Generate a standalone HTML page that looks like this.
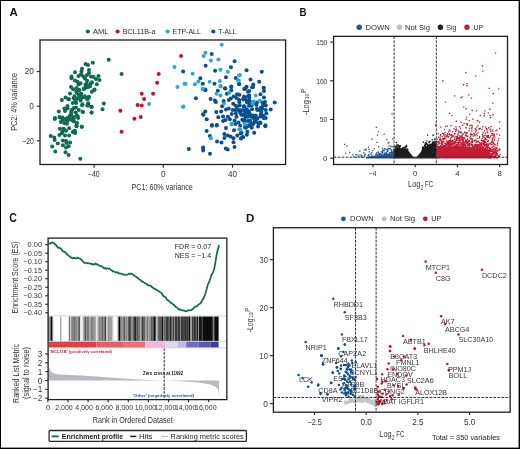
<!DOCTYPE html>
<html><head><meta charset="utf-8"><style>
html,body{margin:0;padding:0;background:#fff;}
body{width:520px;height:449px;overflow:hidden;}
svg{display:block;}
text{font-family:"Liberation Sans", sans-serif;}
</style></head><body>
<svg width="520" height="449" viewBox="0 0 520 449" style="will-change:transform">
<rect width="520" height="449" fill="#fff"/>
<text x="9.60" y="16.30" font-size="11.5" font-weight="bold" fill="#111">A</text>
<circle cx="87.90" cy="31.50" r="2.1" fill="#0d6b50"/>
<text x="93.10" y="34.10" font-size="7.5" textLength="15.4" lengthAdjust="spacingAndGlyphs" fill="#2b2b2b">AML</text>
<circle cx="117.60" cy="31.50" r="2.1" fill="#c8102e"/>
<text x="122.80" y="34.10" font-size="7.5" textLength="32.6" lengthAdjust="spacingAndGlyphs" fill="#2b2b2b">BCL11B-a</text>
<circle cx="167.60" cy="31.50" r="2.1" fill="#2aa6df"/>
<text x="172.60" y="34.10" font-size="7.5" textLength="28.2" lengthAdjust="spacingAndGlyphs" fill="#2b2b2b">ETP-ALL</text>
<circle cx="213.30" cy="31.50" r="2.1" fill="#0b4f8c"/>
<text x="218.50" y="34.10" font-size="7.5" textLength="18" lengthAdjust="spacingAndGlyphs" fill="#2b2b2b">T-ALL</text>
<line x1="36.80" y1="71.60" x2="40.00" y2="71.60" stroke="#222" stroke-width="1.1"/>
<text x="33.90" y="74.40" font-size="8.2" text-anchor="end" fill="#333">20</text>
<line x1="36.80" y1="106.20" x2="40.00" y2="106.20" stroke="#222" stroke-width="1.1"/>
<text x="33.90" y="109.00" font-size="8.2" text-anchor="end" fill="#333">0</text>
<line x1="36.80" y1="140.80" x2="40.00" y2="140.80" stroke="#222" stroke-width="1.1"/>
<text x="33.90" y="143.60" font-size="8.2" text-anchor="end" textLength="11.6" lengthAdjust="spacingAndGlyphs" fill="#333">−20</text>
<line x1="94.10" y1="164.50" x2="94.10" y2="167.70" stroke="#222" stroke-width="1.1"/>
<text x="93.80" y="176.70" font-size="8.2" text-anchor="middle" textLength="11.8" lengthAdjust="spacingAndGlyphs" fill="#333">−40</text>
<line x1="163.30" y1="164.50" x2="163.30" y2="167.70" stroke="#222" stroke-width="1.1"/>
<text x="163.30" y="176.70" font-size="8.2" text-anchor="middle" fill="#333">0</text>
<line x1="232.50" y1="164.50" x2="232.50" y2="167.70" stroke="#222" stroke-width="1.1"/>
<text x="232.50" y="176.70" font-size="8.2" text-anchor="middle" fill="#333">40</text>
<text x="131.50" y="189.50" font-size="9" textLength="61.3" lengthAdjust="spacingAndGlyphs" fill="#333">PC1: 60% variance</text>
<text transform="translate(17.2,130.8) rotate(-90)" font-size="9" textLength="57.9" lengthAdjust="spacingAndGlyphs" fill="#333">PC2: 4% variance</text>
<g fill="#0d6b50"><circle cx="85.3" cy="97.5" r="2.0"/><circle cx="63.2" cy="128.7" r="2.0"/><circle cx="67.6" cy="108.3" r="2.0"/><circle cx="81.2" cy="96.8" r="2.0"/><circle cx="80.9" cy="74.6" r="2.0"/><circle cx="88.7" cy="97.6" r="2.0"/><circle cx="90.7" cy="83.7" r="2.0"/><circle cx="74.4" cy="96.3" r="2.0"/><circle cx="72.0" cy="119.9" r="2.0"/><circle cx="73.8" cy="98.2" r="2.0"/><circle cx="76.3" cy="91.7" r="2.0"/><circle cx="75.9" cy="107.4" r="2.0"/><circle cx="64.4" cy="119.7" r="2.0"/><circle cx="70.3" cy="116.2" r="2.0"/><circle cx="86.6" cy="87.6" r="2.0"/><circle cx="66.0" cy="108.7" r="2.0"/><circle cx="76.2" cy="99.2" r="2.0"/><circle cx="90.0" cy="86.3" r="2.0"/><circle cx="68.6" cy="99.3" r="2.0"/><circle cx="61.9" cy="133.2" r="2.0"/><circle cx="69.8" cy="115.7" r="2.0"/><circle cx="81.4" cy="97.1" r="2.0"/><circle cx="71.2" cy="112.3" r="2.0"/><circle cx="72.8" cy="103.0" r="2.0"/><circle cx="71.7" cy="110.2" r="2.0"/><circle cx="86.9" cy="84.0" r="2.0"/><circle cx="79.4" cy="89.9" r="2.0"/><circle cx="84.8" cy="96.3" r="2.0"/><circle cx="78.7" cy="94.6" r="2.0"/><circle cx="85.7" cy="86.0" r="2.0"/><circle cx="108.7" cy="59.8" r="2.0"/><circle cx="92.8" cy="62.8" r="2.0"/><circle cx="85.5" cy="64.0" r="2.0"/><circle cx="88.0" cy="65.0" r="2.0"/><circle cx="82.0" cy="68.8" r="2.0"/><circle cx="89.0" cy="70.0" r="2.0"/><circle cx="75.0" cy="72.3" r="2.0"/><circle cx="81.5" cy="71.5" r="2.0"/><circle cx="81.0" cy="74.5" r="2.0"/><circle cx="78.5" cy="76.0" r="2.0"/><circle cx="83.5" cy="76.5" r="2.0"/><circle cx="85.0" cy="78.5" r="2.0"/><circle cx="87.0" cy="75.0" r="2.0"/><circle cx="89.0" cy="73.0" r="2.0"/><circle cx="91.0" cy="76.5" r="2.0"/><circle cx="93.5" cy="77.0" r="2.0"/><circle cx="98.5" cy="76.0" r="2.0"/><circle cx="96.0" cy="79.0" r="2.0"/><circle cx="99.5" cy="80.0" r="2.0"/><circle cx="71.5" cy="76.5" r="2.0"/><circle cx="71.5" cy="78.2" r="2.0"/><circle cx="75.0" cy="80.5" r="2.0"/><circle cx="77.5" cy="81.8" r="2.0"/><circle cx="80.5" cy="83.3" r="2.0"/><circle cx="78.5" cy="84.5" r="2.0"/><circle cx="87.0" cy="80.8" r="2.0"/><circle cx="92.0" cy="82.2" r="2.0"/><circle cx="96.8" cy="84.2" r="2.0"/><circle cx="85.5" cy="84.5" r="2.0"/><circle cx="88.0" cy="87.0" r="2.0"/><circle cx="71.0" cy="87.0" r="2.0"/><circle cx="76.5" cy="88.0" r="2.0"/><circle cx="84.0" cy="88.5" r="2.0"/><circle cx="94.5" cy="89.5" r="2.0"/><circle cx="94.4" cy="89.9" r="2.0"/><circle cx="91.9" cy="91.8" r="2.0"/><circle cx="83.8" cy="89.2" r="2.0"/><circle cx="78.8" cy="89.9" r="2.0"/><circle cx="73.1" cy="89.2" r="2.0"/><circle cx="76.9" cy="93.0" r="2.0"/><circle cx="81.2" cy="93.6" r="2.0"/><circle cx="70.0" cy="93.6" r="2.0"/><circle cx="65.6" cy="97.4" r="2.0"/><circle cx="68.8" cy="99.2" r="2.0"/><circle cx="61.9" cy="100.1" r="2.0"/><circle cx="74.4" cy="97.4" r="2.0"/><circle cx="78.1" cy="98.0" r="2.0"/><circle cx="82.5" cy="97.4" r="2.0"/><circle cx="88.8" cy="96.8" r="2.0"/><circle cx="87.5" cy="99.2" r="2.0"/><circle cx="75.6" cy="100.5" r="2.0"/><circle cx="80.6" cy="100.5" r="2.0"/><circle cx="76.2" cy="103.0" r="2.0"/><circle cx="82.5" cy="104.2" r="2.0"/><circle cx="88.1" cy="103.6" r="2.0"/><circle cx="88.1" cy="105.5" r="2.0"/><circle cx="91.6" cy="107.0" r="2.0"/><circle cx="103.8" cy="103.6" r="2.0"/><circle cx="102.5" cy="109.2" r="2.0"/><circle cx="91.6" cy="112.4" r="2.0"/><circle cx="82.5" cy="111.8" r="2.0"/><circle cx="78.8" cy="109.9" r="2.0"/><circle cx="73.8" cy="108.0" r="2.0"/><circle cx="67.5" cy="106.1" r="2.0"/><circle cx="64.4" cy="108.6" r="2.0"/><circle cx="65.0" cy="111.1" r="2.0"/><circle cx="58.8" cy="111.5" r="2.0"/><circle cx="71.9" cy="109.9" r="2.0"/><circle cx="75.6" cy="112.4" r="2.0"/><circle cx="71.2" cy="114.2" r="2.0"/><circle cx="76.9" cy="115.5" r="2.0"/><circle cx="78.1" cy="118.0" r="2.0"/><circle cx="73.8" cy="118.0" r="2.0"/><circle cx="67.5" cy="118.0" r="2.0"/><circle cx="62.5" cy="117.4" r="2.0"/><circle cx="60.0" cy="117.4" r="2.0"/><circle cx="55.0" cy="118.0" r="2.0"/><circle cx="69.4" cy="119.2" r="2.0"/><circle cx="54.7" cy="119.1" r="2.0"/><circle cx="59.4" cy="117.0" r="2.0"/><circle cx="62.4" cy="120.1" r="2.0"/><circle cx="60.9" cy="122.1" r="2.0"/><circle cx="65.5" cy="119.1" r="2.0"/><circle cx="67.5" cy="121.1" r="2.0"/><circle cx="64.5" cy="123.2" r="2.0"/><circle cx="67.0" cy="123.7" r="2.0"/><circle cx="73.7" cy="117.0" r="2.0"/><circle cx="77.8" cy="116.5" r="2.0"/><circle cx="73.7" cy="121.1" r="2.0"/><circle cx="76.8" cy="123.2" r="2.0"/><circle cx="76.5" cy="126.2" r="2.0"/><circle cx="81.9" cy="126.7" r="2.0"/><circle cx="59.9" cy="128.8" r="2.0"/><circle cx="64.0" cy="129.3" r="2.0"/><circle cx="69.1" cy="128.3" r="2.0"/><circle cx="62.4" cy="131.4" r="2.0"/><circle cx="66.0" cy="130.8" r="2.0"/><circle cx="74.7" cy="130.8" r="2.0"/><circle cx="75.2" cy="132.9" r="2.0"/><circle cx="72.7" cy="131.9" r="2.0"/><circle cx="59.4" cy="134.9" r="2.0"/><circle cx="65.0" cy="135.4" r="2.0"/><circle cx="69.1" cy="135.4" r="2.0"/><circle cx="50.7" cy="136.0" r="2.0"/><circle cx="54.2" cy="137.5" r="2.0"/><circle cx="54.7" cy="140.1" r="2.0"/><circle cx="62.9" cy="140.6" r="2.0"/><circle cx="66.0" cy="141.1" r="2.0"/><circle cx="70.1" cy="142.4" r="2.0"/><circle cx="57.8" cy="143.4" r="2.0"/><circle cx="62.9" cy="145.2" r="2.0"/><circle cx="66.5" cy="143.1" r="2.0"/><circle cx="52.2" cy="146.4" r="2.0"/><circle cx="68.6" cy="146.2" r="2.0"/><circle cx="66.0" cy="147.5" r="2.0"/><circle cx="55.3" cy="151.6" r="2.0"/><circle cx="65.5" cy="152.3" r="2.0"/><circle cx="68.6" cy="154.9" r="2.0"/><circle cx="80.3" cy="158.8" r="2.0"/><circle cx="91.5" cy="106.7" r="2.0"/><circle cx="91.5" cy="112.5" r="2.0"/><circle cx="83.0" cy="112.1" r="2.0"/><circle cx="88.2" cy="103.5" r="2.0"/><circle cx="87.3" cy="105.6" r="2.0"/><circle cx="82.1" cy="105.2" r="2.0"/><circle cx="81.7" cy="126.8" r="2.0"/><circle cx="76.5" cy="126.0" r="2.0"/><circle cx="76.9" cy="122.9" r="2.0"/><circle cx="74.8" cy="131.6" r="2.0"/><circle cx="73.5" cy="121.2" r="2.0"/><circle cx="121.6" cy="74.0" r="2.0"/></g>
<g fill="#c8102e"><circle cx="181.1" cy="56.0" r="2.0"/><circle cx="158.7" cy="74.0" r="2.0"/><circle cx="157.1" cy="82.7" r="2.0"/><circle cx="141.7" cy="93.7" r="2.0"/><circle cx="153.1" cy="93.7" r="2.0"/><circle cx="144.1" cy="99.1" r="2.0"/><circle cx="137.6" cy="105.1" r="2.0"/><circle cx="141.7" cy="105.5" r="2.0"/><circle cx="120.4" cy="110.7" r="2.0"/><circle cx="134.4" cy="118.7" r="2.0"/><circle cx="140.7" cy="117.1" r="2.0"/><circle cx="121.6" cy="131.8" r="2.0"/></g>
<g fill="#0b4f8c"><circle cx="247.1" cy="102.6" r="2.0"/><circle cx="260.8" cy="114.4" r="2.0"/><circle cx="235.4" cy="110.0" r="2.0"/><circle cx="248.0" cy="120.9" r="2.0"/><circle cx="249.5" cy="125.2" r="2.0"/><circle cx="235.8" cy="113.6" r="2.0"/><circle cx="255.4" cy="103.0" r="2.0"/><circle cx="260.7" cy="110.9" r="2.0"/><circle cx="248.8" cy="111.2" r="2.0"/><circle cx="265.0" cy="102.0" r="2.0"/><circle cx="239.7" cy="110.3" r="2.0"/><circle cx="250.3" cy="102.9" r="2.0"/><circle cx="241.3" cy="114.8" r="2.0"/><circle cx="265.7" cy="118.1" r="2.0"/><circle cx="258.5" cy="123.5" r="2.0"/><circle cx="243.2" cy="99.0" r="2.0"/><circle cx="240.1" cy="111.7" r="2.0"/><circle cx="236.9" cy="106.6" r="2.0"/><circle cx="265.8" cy="105.6" r="2.0"/><circle cx="254.6" cy="118.1" r="2.0"/><circle cx="245.6" cy="116.8" r="2.0"/><circle cx="253.4" cy="118.0" r="2.0"/><circle cx="244.0" cy="96.6" r="2.0"/><circle cx="239.8" cy="105.5" r="2.0"/><circle cx="256.9" cy="109.0" r="2.0"/><circle cx="246.6" cy="109.2" r="2.0"/><circle cx="263.1" cy="105.2" r="2.0"/><circle cx="244.5" cy="119.6" r="2.0"/><circle cx="256.7" cy="102.4" r="2.0"/><circle cx="249.8" cy="103.9" r="2.0"/><circle cx="260.4" cy="116.4" r="2.0"/><circle cx="243.2" cy="115.0" r="2.0"/><circle cx="247.0" cy="110.3" r="2.0"/><circle cx="251.7" cy="105.4" r="2.0"/><circle cx="255.7" cy="115.6" r="2.0"/><circle cx="255.7" cy="122.0" r="2.0"/><circle cx="248.0" cy="96.2" r="2.0"/><circle cx="245.6" cy="113.0" r="2.0"/><circle cx="251.2" cy="116.8" r="2.0"/><circle cx="259.9" cy="109.8" r="2.0"/><circle cx="249.8" cy="101.1" r="2.0"/><circle cx="262.4" cy="108.4" r="2.0"/><circle cx="239.1" cy="99.9" r="2.0"/><circle cx="246.4" cy="126.6" r="2.0"/><circle cx="249.6" cy="113.6" r="2.0"/><circle cx="183.1" cy="71.4" r="2.0"/><circle cx="211.7" cy="53.9" r="2.0"/><circle cx="205.6" cy="65.8" r="2.0"/><circle cx="234.6" cy="61.2" r="2.0"/><circle cx="231.0" cy="67.3" r="2.0"/><circle cx="215.1" cy="70.8" r="2.0"/><circle cx="200.4" cy="78.2" r="2.0"/><circle cx="202.8" cy="83.8" r="2.0"/><circle cx="214.5" cy="83.8" r="2.0"/><circle cx="226.0" cy="77.3" r="2.0"/><circle cx="235.7" cy="78.1" r="2.0"/><circle cx="225.1" cy="88.2" r="2.0"/><circle cx="231.2" cy="86.5" r="2.0"/><circle cx="239.0" cy="84.0" r="2.0"/><circle cx="205.4" cy="89.6" r="2.0"/><circle cx="246.6" cy="70.3" r="2.0"/><circle cx="261.8" cy="71.7" r="2.0"/><circle cx="250.5" cy="79.5" r="2.0"/><circle cx="259.2" cy="81.8" r="2.0"/><circle cx="253.3" cy="84.5" r="2.0"/><circle cx="239.3" cy="84.0" r="2.0"/><circle cx="263.8" cy="87.9" r="2.0"/><circle cx="246.6" cy="86.8" r="2.0"/><circle cx="244.9" cy="89.0" r="2.0"/><circle cx="252.1" cy="87.3" r="2.0"/><circle cx="205.3" cy="90.3" r="2.0"/><circle cx="217.8" cy="90.8" r="2.0"/><circle cx="225.2" cy="88.4" r="2.0"/><circle cx="231.3" cy="87.0" r="2.0"/><circle cx="231.3" cy="90.3" r="2.0"/><circle cx="226.9" cy="93.7" r="2.0"/><circle cx="210.6" cy="99.0" r="2.0"/><circle cx="214.9" cy="100.4" r="2.0"/><circle cx="215.9" cy="101.9" r="2.0"/><circle cx="223.6" cy="100.9" r="2.0"/><circle cx="228.8" cy="100.0" r="2.0"/><circle cx="230.8" cy="98.5" r="2.0"/><circle cx="233.7" cy="96.6" r="2.0"/><circle cx="237.0" cy="94.2" r="2.0"/><circle cx="239.4" cy="94.7" r="2.0"/><circle cx="236.5" cy="98.0" r="2.0"/><circle cx="244.2" cy="88.9" r="2.0"/><circle cx="248.0" cy="91.8" r="2.0"/><circle cx="243.3" cy="99.5" r="2.0"/><circle cx="247.1" cy="100.4" r="2.0"/><circle cx="239.4" cy="102.3" r="2.0"/><circle cx="233.2" cy="103.8" r="2.0"/><circle cx="235.6" cy="105.7" r="2.0"/><circle cx="243.8" cy="106.2" r="2.0"/><circle cx="249.0" cy="105.7" r="2.0"/><circle cx="222.1" cy="106.2" r="2.0"/><circle cx="226.0" cy="109.6" r="2.0"/><circle cx="228.8" cy="108.6" r="2.0"/><circle cx="232.7" cy="110.0" r="2.0"/><circle cx="238.0" cy="110.0" r="2.0"/><circle cx="242.3" cy="110.0" r="2.0"/><circle cx="245.7" cy="110.5" r="2.0"/><circle cx="205.3" cy="111.5" r="2.0"/><circle cx="203.4" cy="114.8" r="2.0"/><circle cx="206.7" cy="119.2" r="2.0"/><circle cx="216.3" cy="112.0" r="2.0"/><circle cx="221.2" cy="111.5" r="2.0"/><circle cx="218.3" cy="117.3" r="2.0"/><circle cx="223.1" cy="116.6" r="2.0"/><circle cx="227.9" cy="116.8" r="2.0"/><circle cx="231.7" cy="113.9" r="2.0"/><circle cx="236.5" cy="116.8" r="2.0"/><circle cx="240.4" cy="112.9" r="2.0"/><circle cx="244.2" cy="113.9" r="2.0"/><circle cx="248.0" cy="116.8" r="2.0"/><circle cx="223.1" cy="121.1" r="2.0"/><circle cx="225.5" cy="120.1" r="2.0"/><circle cx="229.8" cy="119.2" r="2.0"/><circle cx="234.6" cy="120.6" r="2.0"/><circle cx="238.5" cy="122.5" r="2.0"/><circle cx="242.3" cy="119.7" r="2.0"/><circle cx="212.0" cy="125.0" r="2.0"/><circle cx="216.8" cy="125.0" r="2.0"/><circle cx="252.9" cy="87.3" r="2.0"/><circle cx="263.6" cy="87.8" r="2.0"/><circle cx="264.0" cy="90.9" r="2.0"/><circle cx="260.5" cy="94.2" r="2.0"/><circle cx="264.0" cy="97.6" r="2.0"/><circle cx="274.7" cy="102.5" r="2.0"/><circle cx="270.7" cy="109.6" r="2.0"/><circle cx="262.3" cy="102.5" r="2.0"/><circle cx="264.0" cy="105.1" r="2.0"/><circle cx="256.5" cy="102.9" r="2.0"/><circle cx="256.5" cy="105.1" r="2.0"/><circle cx="249.3" cy="95.4" r="2.0"/><circle cx="249.3" cy="97.6" r="2.0"/><circle cx="246.7" cy="100.7" r="2.0"/><circle cx="244.9" cy="98.5" r="2.0"/><circle cx="245.8" cy="87.8" r="2.0"/><circle cx="249.3" cy="90.9" r="2.0"/><circle cx="249.8" cy="105.1" r="2.0"/><circle cx="244.4" cy="106.5" r="2.0"/><circle cx="252.0" cy="109.2" r="2.0"/><circle cx="257.4" cy="110.0" r="2.0"/><circle cx="260.9" cy="107.8" r="2.0"/><circle cx="261.4" cy="111.4" r="2.0"/><circle cx="265.8" cy="110.0" r="2.0"/><circle cx="266.3" cy="113.6" r="2.0"/><circle cx="263.1" cy="115.4" r="2.0"/><circle cx="263.6" cy="118.1" r="2.0"/><circle cx="257.4" cy="118.5" r="2.0"/><circle cx="252.9" cy="115.4" r="2.0"/><circle cx="248.0" cy="116.3" r="2.0"/><circle cx="246.7" cy="112.7" r="2.0"/><circle cx="244.9" cy="110.5" r="2.0"/><circle cx="250.2" cy="120.7" r="2.0"/><circle cx="254.7" cy="121.6" r="2.0"/><circle cx="260.0" cy="122.5" r="2.0"/><circle cx="252.9" cy="124.3" r="2.0"/><circle cx="265.4" cy="125.2" r="2.0"/><circle cx="249.3" cy="125.2" r="2.0"/><circle cx="211.9" cy="125.8" r="2.0"/><circle cx="216.7" cy="125.4" r="2.0"/><circle cx="206.6" cy="131.1" r="2.0"/><circle cx="209.9" cy="135.9" r="2.0"/><circle cx="217.0" cy="141.4" r="2.0"/><circle cx="221.5" cy="142.5" r="2.0"/><circle cx="203.2" cy="147.5" r="2.0"/><circle cx="203.2" cy="150.4" r="2.0"/><circle cx="210.0" cy="153.7" r="2.0"/><circle cx="226.0" cy="128.0" r="2.0"/><circle cx="234.0" cy="130.2" r="2.0"/><circle cx="224.4" cy="134.0" r="2.0"/><circle cx="224.4" cy="137.9" r="2.0"/><circle cx="227.7" cy="135.5" r="2.0"/><circle cx="230.6" cy="136.4" r="2.0"/><circle cx="233.5" cy="138.3" r="2.0"/><circle cx="233.5" cy="142.2" r="2.0"/><circle cx="234.5" cy="147.0" r="2.0"/><circle cx="225.8" cy="148.4" r="2.0"/><circle cx="227.7" cy="149.4" r="2.0"/><circle cx="237.3" cy="135.5" r="2.0"/><circle cx="240.7" cy="133.5" r="2.0"/><circle cx="241.2" cy="138.3" r="2.0"/><circle cx="243.1" cy="136.9" r="2.0"/><circle cx="235.4" cy="123.9" r="2.0"/><circle cx="240.2" cy="125.8" r="2.0"/><circle cx="245.0" cy="127.3" r="2.0"/><circle cx="244.4" cy="122.0" r="2.0"/><circle cx="251.8" cy="123.4" r="2.0"/><circle cx="255.7" cy="121.0" r="2.0"/><circle cx="260.6" cy="122.9" r="2.0"/><circle cx="258.1" cy="126.4" r="2.0"/><circle cx="251.8" cy="127.8" r="2.0"/><circle cx="248.3" cy="125.9" r="2.0"/><circle cx="245.9" cy="127.8" r="2.0"/><circle cx="265.3" cy="126.2" r="2.0"/><circle cx="254.2" cy="132.7" r="2.0"/><circle cx="247.4" cy="131.8" r="2.0"/><circle cx="246.9" cy="134.7" r="2.0"/><circle cx="241.5" cy="132.7" r="2.0"/><circle cx="242.9" cy="137.2" r="2.0"/><circle cx="241.0" cy="138.6" r="2.0"/><circle cx="195.9" cy="98.2" r="2.0"/><circle cx="188.8" cy="148.9" r="2.0"/><circle cx="203.1" cy="114.2" r="2.0"/><circle cx="203.1" cy="148.0" r="2.0"/></g>
<g fill="#2aa6df"><circle cx="174.5" cy="67.0" r="2.0"/><circle cx="177.5" cy="87.1" r="2.0"/><circle cx="184.5" cy="83.7" r="2.0"/><circle cx="149.1" cy="104.1" r="2.0"/><circle cx="183.1" cy="106.7" r="2.0"/><circle cx="221.7" cy="44.7" r="2.0"/><circle cx="205.4" cy="52.8" r="2.0"/><circle cx="203.7" cy="55.9" r="2.0"/><circle cx="210.9" cy="60.4" r="2.0"/><circle cx="218.4" cy="59.5" r="2.0"/><circle cx="192.6" cy="73.7" r="2.0"/><circle cx="220.4" cy="69.8" r="2.0"/><circle cx="227.9" cy="71.7" r="2.0"/><circle cx="198.4" cy="81.5" r="2.0"/><circle cx="195.0" cy="84.2" r="2.0"/><circle cx="209.7" cy="81.8" r="2.0"/><circle cx="219.9" cy="81.0" r="2.0"/><circle cx="220.4" cy="86.0" r="2.0"/><circle cx="202.8" cy="88.7" r="2.0"/><circle cx="185.6" cy="83.8" r="2.0"/><circle cx="239.0" cy="75.4" r="2.0"/><circle cx="238.2" cy="81.0" r="2.0"/><circle cx="239.9" cy="75.1" r="2.0"/><circle cx="238.8" cy="80.3" r="2.0"/><circle cx="202.7" cy="89.1" r="2.0"/><circle cx="216.5" cy="93.7" r="2.0"/><circle cx="220.4" cy="95.6" r="2.0"/><circle cx="229.3" cy="92.7" r="2.0"/><circle cx="224.0" cy="103.8" r="2.0"/><circle cx="231.7" cy="123.5" r="2.0"/><circle cx="245.2" cy="124.0" r="2.0"/><circle cx="220.7" cy="86.5" r="2.0"/><circle cx="255.6" cy="95.4" r="2.0"/><circle cx="253.8" cy="101.6" r="2.0"/><circle cx="252.5" cy="103.4" r="2.0"/><circle cx="259.9" cy="100.7" r="2.0"/><circle cx="245.3" cy="124.3" r="2.0"/><circle cx="210.9" cy="138.3" r="2.0"/><circle cx="231.6" cy="124.4" r="2.0"/><circle cx="239.3" cy="129.5" r="2.0"/><circle cx="244.9" cy="123.9" r="2.0"/><circle cx="240.5" cy="129.8" r="2.0"/><circle cx="183.4" cy="106.6" r="2.0"/></g>
<rect x="40.00" y="40.00" width="245.60" height="124.50" fill="none" stroke="#1e1e1e" stroke-width="1.3"/>
<text x="299.60" y="16.20" font-size="11.7" font-weight="bold" textLength="7.0" lengthAdjust="spacingAndGlyphs" fill="#111">B</text>
<circle cx="359.20" cy="27.20" r="2.7" fill="#1d5894"/>
<text x="365.40" y="29.80" font-size="7.5" textLength="24.3" lengthAdjust="spacingAndGlyphs" fill="#2b2b2b">DOWN</text>
<circle cx="399.50" cy="27.20" r="2.7" fill="#bdbdbd"/>
<text x="405.00" y="29.80" font-size="7.5" textLength="25" lengthAdjust="spacingAndGlyphs" fill="#2b2b2b">Not Sig</text>
<circle cx="440.40" cy="27.20" r="2.7" fill="#1f1f1f"/>
<text x="446.20" y="29.80" font-size="7.5" textLength="10.3" lengthAdjust="spacingAndGlyphs" fill="#2b2b2b">Sig</text>
<circle cx="467.00" cy="27.20" r="2.7" fill="#c41d33"/>
<text x="473.40" y="29.80" font-size="7.5" textLength="9.6" lengthAdjust="spacingAndGlyphs" fill="#2b2b2b">UP</text>
<line x1="330.20" y1="42.10" x2="333.60" y2="42.10" stroke="#222" stroke-width="1.1"/>
<text x="327.30" y="44.90" font-size="7.8" text-anchor="end" textLength="11.1" lengthAdjust="spacingAndGlyphs" fill="#333">150</text>
<line x1="330.20" y1="80.80" x2="333.60" y2="80.80" stroke="#222" stroke-width="1.1"/>
<text x="327.30" y="83.60" font-size="7.8" text-anchor="end" textLength="11.1" lengthAdjust="spacingAndGlyphs" fill="#333">100</text>
<line x1="330.20" y1="119.50" x2="333.60" y2="119.50" stroke="#222" stroke-width="1.1"/>
<text x="327.30" y="122.30" font-size="7.8" text-anchor="end" textLength="7.6" lengthAdjust="spacingAndGlyphs" fill="#333">50</text>
<line x1="330.20" y1="158.20" x2="333.60" y2="158.20" stroke="#222" stroke-width="1.1"/>
<text x="327.30" y="161.00" font-size="7.8" text-anchor="end" fill="#333">0</text>
<line x1="373.00" y1="164.50" x2="373.00" y2="167.30" stroke="#222" stroke-width="1.1"/>
<text x="372.65" y="176.40" font-size="7.8" text-anchor="middle" textLength="7.5" lengthAdjust="spacingAndGlyphs" fill="#333">−4</text>
<line x1="415.20" y1="164.50" x2="415.20" y2="167.30" stroke="#222" stroke-width="1.1"/>
<text x="415.20" y="176.40" font-size="7.8" text-anchor="middle" fill="#333">0</text>
<line x1="457.40" y1="164.50" x2="457.40" y2="167.30" stroke="#222" stroke-width="1.1"/>
<text x="457.40" y="176.40" font-size="7.8" text-anchor="middle" fill="#333">4</text>
<line x1="499.60" y1="164.50" x2="499.60" y2="167.30" stroke="#222" stroke-width="1.1"/>
<text x="499.60" y="176.40" font-size="7.8" text-anchor="middle" fill="#333">8</text>
<polygon fill="#1d5894" points="366.0,158.4 366.0,157.4 370.0,156.6 375.0,155.8 380.0,155.0 385.0,154.4 390.0,153.8 394.2,153.4 394.2,158.4"/>
<polygon fill="#1c1c1c" points="394.0,158.4 394.0,149.2 398.4,148.6 401.5,148.3 404.5,148.3 406.5,149.0 408.2,150.6 410.6,153.4 413.0,156.5 415.5,157.4 418.0,155.6 420.4,152.6 422.8,149.2 424.6,147.4 426.5,146.0 429.0,145.0 431.4,144.2 435.7,143.2 436.6,142.8 436.6,158.4"/>
<polygon fill="#c41d33" points="436.4,158.4 436.4,146.0 440.0,146.6 445.0,146.8 450.0,146.8 455.0,146.8 460.0,146.8 465.0,147.0 470.0,147.4 475.0,148.2 478.0,149.2 481.0,150.5 484.0,152.0 487.0,153.8 490.0,155.6 492.0,157.6 492.0,158.4"/>
<path fill="#1d5894" d="M378.8 153.2h1.3v1.3h-1.3zM393.2 148.9h1.3v1.3h-1.3zM384.4 152.9h1.3v1.3h-1.3zM380.7 154.0h1.3v1.3h-1.3zM389.6 148.5h1.3v1.3h-1.3zM370.2 153.1h1.3v1.3h-1.3zM385.2 153.0h1.3v1.3h-1.3zM383.3 154.3h1.3v1.3h-1.3zM375.5 153.2h1.3v1.3h-1.3zM387.3 150.4h1.3v1.3h-1.3zM363.9 155.0h1.3v1.3h-1.3zM391.1 150.1h1.3v1.3h-1.3zM381.8 151.1h1.3v1.3h-1.3zM376.7 154.0h1.3v1.3h-1.3zM383.8 148.0h1.3v1.3h-1.3zM360.6 155.8h1.3v1.3h-1.3zM385.6 152.9h1.3v1.3h-1.3zM367.9 146.4h1.3v1.3h-1.3zM356.3 153.9h1.3v1.3h-1.3zM375.2 154.6h1.3v1.3h-1.3zM387.2 153.5h1.3v1.3h-1.3zM376.2 151.9h1.3v1.3h-1.3zM391.0 152.2h1.3v1.3h-1.3zM391.0 151.0h1.3v1.3h-1.3zM367.6 154.8h1.3v1.3h-1.3zM386.7 150.6h1.3v1.3h-1.3zM390.1 145.7h1.3v1.3h-1.3zM389.2 147.7h1.3v1.3h-1.3zM386.5 148.9h1.3v1.3h-1.3zM393.3 150.2h1.3v1.3h-1.3zM372.9 155.8h1.3v1.3h-1.3zM391.4 152.5h1.3v1.3h-1.3zM368.7 151.2h1.3v1.3h-1.3zM383.5 152.6h1.3v1.3h-1.3zM381.6 147.8h1.3v1.3h-1.3zM378.0 152.5h1.3v1.3h-1.3zM392.9 152.4h1.3v1.3h-1.3zM365.2 149.3h1.3v1.3h-1.3zM377.3 151.2h1.3v1.3h-1.3zM376.3 141.7h1.3v1.3h-1.3zM383.3 150.3h1.3v1.3h-1.3zM353.2 156.3h1.3v1.3h-1.3zM392.9 150.6h1.3v1.3h-1.3zM380.6 154.4h1.3v1.3h-1.3zM391.6 145.9h1.3v1.3h-1.3zM391.8 152.7h1.3v1.3h-1.3zM359.1 150.5h1.3v1.3h-1.3zM391.2 152.6h1.3v1.3h-1.3zM355.7 156.7h1.3v1.3h-1.3zM376.9 154.5h1.3v1.3h-1.3zM363.9 155.5h1.3v1.3h-1.3zM370.9 154.2h1.3v1.3h-1.3zM383.5 149.6h1.3v1.3h-1.3zM355.7 156.8h1.3v1.3h-1.3zM388.6 152.4h1.3v1.3h-1.3zM368.6 155.8h1.3v1.3h-1.3zM390.0 151.9h1.3v1.3h-1.3zM371.5 155.8h1.3v1.3h-1.3zM384.3 153.7h1.3v1.3h-1.3zM385.0 148.5h1.3v1.3h-1.3zM368.3 156.3h1.3v1.3h-1.3zM360.9 154.5h1.3v1.3h-1.3zM390.7 149.4h1.3v1.3h-1.3zM368.1 154.1h1.3v1.3h-1.3zM379.4 153.1h1.3v1.3h-1.3zM389.6 148.4h1.3v1.3h-1.3zM381.8 152.5h1.3v1.3h-1.3zM362.4 156.8h1.3v1.3h-1.3zM385.1 153.4h1.3v1.3h-1.3zM384.2 154.3h1.3v1.3h-1.3zM393.2 146.2h1.3v1.3h-1.3zM392.4 151.5h1.3v1.3h-1.3zM385.5 152.9h1.3v1.3h-1.3zM387.4 148.3h1.3v1.3h-1.3zM388.0 147.7h1.3v1.3h-1.3zM386.1 153.8h1.3v1.3h-1.3zM378.1 153.4h1.3v1.3h-1.3zM389.7 151.9h1.3v1.3h-1.3zM371.1 151.8h1.3v1.3h-1.3zM381.3 154.2h1.3v1.3h-1.3zM372.1 155.5h1.3v1.3h-1.3zM382.1 149.6h1.3v1.3h-1.3zM363.5 149.2h1.3v1.3h-1.3zM391.6 152.1h1.3v1.3h-1.3zM365.7 148.5h1.3v1.3h-1.3zM364.6 153.5h1.3v1.3h-1.3zM378.7 154.2h1.3v1.3h-1.3zM388.4 145.3h1.3v1.3h-1.3zM361.3 156.6h1.3v1.3h-1.3zM385.7 151.8h1.3v1.3h-1.3zM391.4 153.4h1.3v1.3h-1.3zM391.1 152.8h1.3v1.3h-1.3zM378.0 146.3h1.3v1.3h-1.3zM385.0 152.5h1.3v1.3h-1.3zM389.0 152.7h1.3v1.3h-1.3zM391.3 153.1h1.3v1.3h-1.3zM357.8 155.6h1.3v1.3h-1.3zM389.9 152.1h1.3v1.3h-1.3zM385.3 153.8h1.3v1.3h-1.3zM364.5 154.0h1.3v1.3h-1.3zM380.6 153.5h1.3v1.3h-1.3zM390.2 152.0h1.3v1.3h-1.3zM380.3 151.2h1.3v1.3h-1.3zM387.2 149.2h1.3v1.3h-1.3zM389.5 152.0h1.3v1.3h-1.3zM391.1 152.3h1.3v1.3h-1.3zM391.4 113.3h1.3v1.3h-1.3zM375.7 126.8h1.3v1.3h-1.3zM377.6 130.9h1.3v1.3h-1.3zM376.9 134.5h1.3v1.3h-1.3zM383.5 133.5h1.3v1.3h-1.3zM371.4 138.4h1.3v1.3h-1.3zM386.2 138.8h1.3v1.3h-1.3zM388.2 141.7h1.3v1.3h-1.3zM387.4 142.5h1.3v1.3h-1.3zM392.1 138.2h1.3v1.3h-1.3zM344.0 143.7h1.3v1.3h-1.3zM346.2 145.2h1.3v1.3h-1.3zM345.0 152.7h1.3v1.3h-1.3zM349.1 151.8h1.3v1.3h-1.3zM352.2 154.2h1.3v1.3h-1.3zM355.4 154.2h1.3v1.3h-1.3zM359.2 150.3h1.3v1.3h-1.3zM359.2 154.2h1.3v1.3h-1.3zM363.1 152.2h1.3v1.3h-1.3zM368.2 148.7h1.3v1.3h-1.3zM372.2 150.0h1.3v1.3h-1.3zM373.7 147.9h1.3v1.3h-1.3zM392.9 96.3h1.3v1.3h-1.3z"/>
<path fill="#1c1c1c" d="M406.3 149.1h1.3v1.3h-1.3zM398.1 145.0h1.3v1.3h-1.3zM406.9 148.7h1.3v1.3h-1.3zM399.8 146.0h1.3v1.3h-1.3zM400.4 148.2h1.3v1.3h-1.3zM394.9 149.1h1.3v1.3h-1.3zM395.1 146.9h1.3v1.3h-1.3zM405.1 148.3h1.3v1.3h-1.3zM396.6 148.0h1.3v1.3h-1.3zM394.5 145.7h1.3v1.3h-1.3zM395.8 141.9h1.3v1.3h-1.3zM406.6 149.2h1.3v1.3h-1.3zM403.4 147.3h1.3v1.3h-1.3zM397.6 146.3h1.3v1.3h-1.3zM399.4 148.2h1.3v1.3h-1.3zM398.9 148.0h1.3v1.3h-1.3zM404.6 145.9h1.3v1.3h-1.3zM406.7 149.4h1.3v1.3h-1.3zM396.1 147.5h1.3v1.3h-1.3zM395.3 146.8h1.3v1.3h-1.3zM397.6 148.1h1.3v1.3h-1.3zM405.9 144.8h1.3v1.3h-1.3zM397.4 146.0h1.3v1.3h-1.3zM398.7 147.7h1.3v1.3h-1.3zM403.0 147.4h1.3v1.3h-1.3zM406.0 145.9h1.3v1.3h-1.3zM396.4 147.0h1.3v1.3h-1.3zM397.2 144.1h1.3v1.3h-1.3zM403.1 147.2h1.3v1.3h-1.3zM406.4 148.6h1.3v1.3h-1.3zM402.1 147.4h1.3v1.3h-1.3zM398.7 146.2h1.3v1.3h-1.3zM405.2 146.4h1.3v1.3h-1.3zM404.4 146.6h1.3v1.3h-1.3zM396.4 148.4h1.3v1.3h-1.3zM399.6 145.0h1.3v1.3h-1.3zM395.1 146.3h1.3v1.3h-1.3zM401.2 148.1h1.3v1.3h-1.3zM400.8 148.4h1.3v1.3h-1.3zM401.9 147.6h1.3v1.3h-1.3zM406.6 148.7h1.3v1.3h-1.3zM398.4 145.1h1.3v1.3h-1.3zM404.6 145.8h1.3v1.3h-1.3zM395.8 144.5h1.3v1.3h-1.3zM395.0 148.6h1.3v1.3h-1.3zM406.4 148.4h1.3v1.3h-1.3zM394.1 149.2h1.3v1.3h-1.3zM402.3 146.9h1.3v1.3h-1.3zM407.2 148.8h1.3v1.3h-1.3zM399.4 148.5h1.3v1.3h-1.3zM396.3 145.1h1.3v1.3h-1.3zM394.6 147.0h1.3v1.3h-1.3zM396.4 147.3h1.3v1.3h-1.3zM398.4 146.8h1.3v1.3h-1.3zM402.3 147.8h1.3v1.3h-1.3zM428.2 144.5h1.3v1.3h-1.3zM421.5 150.1h1.3v1.3h-1.3zM424.9 145.6h1.3v1.3h-1.3zM432.9 134.4h1.3v1.3h-1.3zM432.3 142.7h1.3v1.3h-1.3zM428.2 141.6h1.3v1.3h-1.3zM423.9 145.1h1.3v1.3h-1.3zM421.4 150.2h1.3v1.3h-1.3zM424.3 143.4h1.3v1.3h-1.3zM429.0 141.1h1.3v1.3h-1.3zM427.1 144.3h1.3v1.3h-1.3zM422.7 147.6h1.3v1.3h-1.3zM430.1 144.1h1.3v1.3h-1.3zM431.4 143.0h1.3v1.3h-1.3zM429.2 144.2h1.3v1.3h-1.3zM431.6 144.1h1.3v1.3h-1.3zM424.9 143.0h1.3v1.3h-1.3zM429.8 144.5h1.3v1.3h-1.3zM433.7 142.2h1.3v1.3h-1.3zM422.8 141.6h1.3v1.3h-1.3zM433.0 141.7h1.3v1.3h-1.3zM421.7 147.5h1.3v1.3h-1.3zM422.0 146.4h1.3v1.3h-1.3zM428.8 144.7h1.3v1.3h-1.3zM429.2 144.5h1.3v1.3h-1.3zM426.9 143.6h1.3v1.3h-1.3zM432.2 134.4h1.3v1.3h-1.3zM426.5 145.8h1.3v1.3h-1.3zM425.5 142.1h1.3v1.3h-1.3zM425.0 146.6h1.3v1.3h-1.3zM422.1 148.8h1.3v1.3h-1.3zM429.3 143.4h1.3v1.3h-1.3zM431.4 144.0h1.3v1.3h-1.3zM429.4 140.8h1.3v1.3h-1.3zM427.3 144.7h1.3v1.3h-1.3zM431.8 139.3h1.3v1.3h-1.3zM426.3 140.2h1.3v1.3h-1.3zM435.3 142.3h1.3v1.3h-1.3zM427.0 134.4h1.3v1.3h-1.3zM423.4 146.9h1.3v1.3h-1.3zM434.1 142.3h1.3v1.3h-1.3zM431.8 141.6h1.3v1.3h-1.3zM429.5 144.5h1.3v1.3h-1.3zM423.3 146.2h1.3v1.3h-1.3zM433.4 142.9h1.3v1.3h-1.3zM426.0 143.3h1.3v1.3h-1.3zM425.1 142.6h1.3v1.3h-1.3zM432.1 143.8h1.3v1.3h-1.3zM434.4 139.1h1.3v1.3h-1.3zM434.1 138.6h1.3v1.3h-1.3zM425.7 143.6h1.3v1.3h-1.3zM435.2 141.1h1.3v1.3h-1.3zM433.5 141.1h1.3v1.3h-1.3zM424.6 144.1h1.3v1.3h-1.3zM435.1 124.6h1.3v1.3h-1.3z"/>
<path fill="#c41d33" d="M475.8 141.2h1.3v1.3h-1.3zM438.9 139.4h1.3v1.3h-1.3zM481.0 142.6h1.3v1.3h-1.3zM494.0 150.2h1.3v1.3h-1.3zM482.7 140.3h1.3v1.3h-1.3zM447.5 145.5h1.3v1.3h-1.3zM489.8 156.3h1.3v1.3h-1.3zM488.6 157.3h1.3v1.3h-1.3zM464.8 140.3h1.3v1.3h-1.3zM491.8 138.1h1.3v1.3h-1.3zM450.9 134.0h1.3v1.3h-1.3zM452.1 142.6h1.3v1.3h-1.3zM461.1 138.5h1.3v1.3h-1.3zM488.0 154.5h1.3v1.3h-1.3zM465.8 141.3h1.3v1.3h-1.3zM484.1 144.8h1.3v1.3h-1.3zM489.7 155.9h1.3v1.3h-1.3zM459.6 131.8h1.3v1.3h-1.3zM461.1 145.7h1.3v1.3h-1.3zM475.5 146.0h1.3v1.3h-1.3zM449.9 140.9h1.3v1.3h-1.3zM442.1 141.8h1.3v1.3h-1.3zM463.0 145.2h1.3v1.3h-1.3zM436.9 144.3h1.3v1.3h-1.3zM486.6 149.3h1.3v1.3h-1.3zM460.1 137.1h1.3v1.3h-1.3zM437.7 143.2h1.3v1.3h-1.3zM480.3 145.6h1.3v1.3h-1.3zM448.2 144.0h1.3v1.3h-1.3zM471.8 125.2h1.3v1.3h-1.3zM446.6 140.7h1.3v1.3h-1.3zM484.4 139.1h1.3v1.3h-1.3zM483.0 147.7h1.3v1.3h-1.3zM463.1 106.5h1.3v1.3h-1.3zM482.1 135.5h1.3v1.3h-1.3zM447.8 136.5h1.3v1.3h-1.3zM474.4 135.0h1.3v1.3h-1.3zM480.8 143.6h1.3v1.3h-1.3zM482.2 145.8h1.3v1.3h-1.3zM484.7 150.8h1.3v1.3h-1.3zM475.1 146.5h1.3v1.3h-1.3zM482.9 147.1h1.3v1.3h-1.3zM456.7 139.3h1.3v1.3h-1.3zM455.3 139.6h1.3v1.3h-1.3zM472.0 144.0h1.3v1.3h-1.3zM481.1 150.4h1.3v1.3h-1.3zM461.2 146.4h1.3v1.3h-1.3zM494.1 157.3h1.3v1.3h-1.3zM476.3 141.2h1.3v1.3h-1.3zM449.7 138.1h1.3v1.3h-1.3zM491.3 150.1h1.3v1.3h-1.3zM456.2 144.0h1.3v1.3h-1.3zM476.6 134.9h1.3v1.3h-1.3zM491.5 156.7h1.3v1.3h-1.3zM446.0 142.4h1.3v1.3h-1.3zM459.4 137.1h1.3v1.3h-1.3zM483.9 144.7h1.3v1.3h-1.3zM436.5 138.8h1.3v1.3h-1.3zM464.6 143.8h1.3v1.3h-1.3zM451.0 144.8h1.3v1.3h-1.3zM493.4 157.3h1.3v1.3h-1.3zM491.2 140.5h1.3v1.3h-1.3zM454.6 146.3h1.3v1.3h-1.3zM447.7 146.3h1.3v1.3h-1.3zM461.3 142.1h1.3v1.3h-1.3zM461.2 134.9h1.3v1.3h-1.3zM445.6 136.3h1.3v1.3h-1.3zM496.3 133.4h1.3v1.3h-1.3zM493.8 153.3h1.3v1.3h-1.3zM487.1 151.6h1.3v1.3h-1.3zM482.8 141.3h1.3v1.3h-1.3zM468.1 144.3h1.3v1.3h-1.3zM485.1 141.6h1.3v1.3h-1.3zM449.6 139.8h1.3v1.3h-1.3zM451.9 143.6h1.3v1.3h-1.3zM452.0 146.7h1.3v1.3h-1.3zM466.7 123.1h1.3v1.3h-1.3zM450.5 143.6h1.3v1.3h-1.3zM469.1 137.3h1.3v1.3h-1.3zM486.1 128.0h1.3v1.3h-1.3zM465.2 127.0h1.3v1.3h-1.3zM485.6 150.9h1.3v1.3h-1.3zM466.9 144.1h1.3v1.3h-1.3zM488.1 127.1h1.3v1.3h-1.3zM479.6 114.9h1.3v1.3h-1.3zM489.0 137.3h1.3v1.3h-1.3zM477.4 148.4h1.3v1.3h-1.3zM447.8 140.9h1.3v1.3h-1.3zM494.0 156.1h1.3v1.3h-1.3zM487.5 149.4h1.3v1.3h-1.3zM440.1 126.5h1.3v1.3h-1.3zM450.5 146.4h1.3v1.3h-1.3zM490.6 156.5h1.3v1.3h-1.3zM486.3 152.2h1.3v1.3h-1.3zM449.6 141.3h1.3v1.3h-1.3zM486.2 146.9h1.3v1.3h-1.3zM465.3 144.9h1.3v1.3h-1.3zM487.8 153.5h1.3v1.3h-1.3zM471.3 143.4h1.3v1.3h-1.3zM489.0 153.3h1.3v1.3h-1.3zM494.3 146.4h1.3v1.3h-1.3zM492.8 145.8h1.3v1.3h-1.3zM482.8 147.5h1.3v1.3h-1.3zM471.7 140.5h1.3v1.3h-1.3zM483.5 115.1h1.3v1.3h-1.3zM498.0 156.3h1.3v1.3h-1.3zM490.6 156.0h1.3v1.3h-1.3zM490.3 126.0h1.3v1.3h-1.3zM489.0 151.9h1.3v1.3h-1.3zM480.5 148.2h1.3v1.3h-1.3zM476.6 146.1h1.3v1.3h-1.3zM493.7 148.7h1.3v1.3h-1.3zM481.6 140.1h1.3v1.3h-1.3zM469.8 143.9h1.3v1.3h-1.3zM438.0 136.5h1.3v1.3h-1.3zM446.8 125.5h1.3v1.3h-1.3zM478.6 145.4h1.3v1.3h-1.3zM491.0 156.3h1.3v1.3h-1.3zM450.5 144.1h1.3v1.3h-1.3zM445.0 143.5h1.3v1.3h-1.3zM495.7 156.8h1.3v1.3h-1.3zM450.4 139.8h1.3v1.3h-1.3zM489.8 149.4h1.3v1.3h-1.3zM494.4 147.9h1.3v1.3h-1.3zM462.5 133.0h1.3v1.3h-1.3zM463.4 142.0h1.3v1.3h-1.3zM484.7 143.4h1.3v1.3h-1.3zM461.9 139.3h1.3v1.3h-1.3zM458.4 146.3h1.3v1.3h-1.3zM493.8 143.9h1.3v1.3h-1.3zM459.1 140.7h1.3v1.3h-1.3zM490.7 153.2h1.3v1.3h-1.3zM454.7 145.5h1.3v1.3h-1.3zM449.4 143.8h1.3v1.3h-1.3zM449.7 134.5h1.3v1.3h-1.3zM471.7 139.8h1.3v1.3h-1.3zM452.4 139.5h1.3v1.3h-1.3zM496.4 147.2h1.3v1.3h-1.3zM445.8 144.0h1.3v1.3h-1.3zM484.0 141.9h1.3v1.3h-1.3zM479.9 146.9h1.3v1.3h-1.3zM481.9 147.8h1.3v1.3h-1.3zM474.6 131.2h1.3v1.3h-1.3zM494.8 152.0h1.3v1.3h-1.3zM454.4 146.3h1.3v1.3h-1.3zM487.7 154.2h1.3v1.3h-1.3zM453.3 140.9h1.3v1.3h-1.3zM438.3 140.9h1.3v1.3h-1.3zM494.9 157.0h1.3v1.3h-1.3zM495.1 154.5h1.3v1.3h-1.3zM472.2 147.5h1.3v1.3h-1.3zM475.6 148.4h1.3v1.3h-1.3zM470.3 142.1h1.3v1.3h-1.3zM484.6 149.2h1.3v1.3h-1.3zM489.5 128.5h1.3v1.3h-1.3zM499.0 127.8h1.3v1.3h-1.3zM441.6 141.6h1.3v1.3h-1.3zM480.1 144.0h1.3v1.3h-1.3zM499.4 153.9h1.3v1.3h-1.3zM463.0 145.7h1.3v1.3h-1.3zM495.7 147.1h1.3v1.3h-1.3zM488.8 151.5h1.3v1.3h-1.3zM483.6 150.4h1.3v1.3h-1.3zM455.5 120.8h1.3v1.3h-1.3zM447.6 141.7h1.3v1.3h-1.3zM489.4 156.5h1.3v1.3h-1.3zM496.4 156.9h1.3v1.3h-1.3zM491.4 149.2h1.3v1.3h-1.3zM463.5 138.2h1.3v1.3h-1.3zM487.6 112.3h1.3v1.3h-1.3zM496.3 156.7h1.3v1.3h-1.3zM440.4 140.2h1.3v1.3h-1.3zM449.5 142.0h1.3v1.3h-1.3zM456.5 135.8h1.3v1.3h-1.3zM497.2 156.7h1.3v1.3h-1.3zM452.1 131.0h1.3v1.3h-1.3zM440.3 145.1h1.3v1.3h-1.3zM456.0 139.1h1.3v1.3h-1.3zM448.7 140.9h1.3v1.3h-1.3zM477.5 140.3h1.3v1.3h-1.3zM462.7 140.7h1.3v1.3h-1.3zM475.3 144.2h1.3v1.3h-1.3zM438.9 145.7h1.3v1.3h-1.3zM483.0 139.8h1.3v1.3h-1.3zM455.8 146.7h1.3v1.3h-1.3zM485.9 144.2h1.3v1.3h-1.3zM470.6 141.0h1.3v1.3h-1.3zM491.5 155.2h1.3v1.3h-1.3zM485.8 139.0h1.3v1.3h-1.3zM475.8 146.9h1.3v1.3h-1.3zM488.6 149.3h1.3v1.3h-1.3zM468.2 143.6h1.3v1.3h-1.3zM459.1 135.0h1.3v1.3h-1.3zM436.5 141.6h1.3v1.3h-1.3zM481.9 151.0h1.3v1.3h-1.3zM489.4 114.7h1.3v1.3h-1.3zM460.0 146.3h1.3v1.3h-1.3zM455.5 145.2h1.3v1.3h-1.3zM459.1 138.6h1.3v1.3h-1.3zM469.0 146.6h1.3v1.3h-1.3zM480.8 145.3h1.3v1.3h-1.3zM461.9 145.9h1.3v1.3h-1.3zM485.7 147.1h1.3v1.3h-1.3zM490.5 134.8h1.3v1.3h-1.3zM462.0 144.1h1.3v1.3h-1.3zM440.1 139.3h1.3v1.3h-1.3zM445.4 145.7h1.3v1.3h-1.3zM475.1 144.1h1.3v1.3h-1.3zM464.2 141.8h1.3v1.3h-1.3zM482.2 136.2h1.3v1.3h-1.3zM451.8 139.9h1.3v1.3h-1.3zM487.7 151.6h1.3v1.3h-1.3zM484.8 137.7h1.3v1.3h-1.3zM493.6 138.4h1.3v1.3h-1.3zM482.2 126.1h1.3v1.3h-1.3zM480.4 149.8h1.3v1.3h-1.3zM481.5 150.7h1.3v1.3h-1.3zM460.3 121.7h1.3v1.3h-1.3zM447.6 144.9h1.3v1.3h-1.3zM465.8 116.8h1.3v1.3h-1.3zM494.3 149.8h1.3v1.3h-1.3zM462.6 144.2h1.3v1.3h-1.3zM466.9 143.8h1.3v1.3h-1.3zM460.3 142.3h1.3v1.3h-1.3zM481.1 150.0h1.3v1.3h-1.3zM466.0 132.7h1.3v1.3h-1.3zM485.2 144.0h1.3v1.3h-1.3zM481.4 128.7h1.3v1.3h-1.3zM484.7 138.4h1.3v1.3h-1.3zM464.1 144.9h1.3v1.3h-1.3zM471.1 130.4h1.3v1.3h-1.3zM481.6 134.0h1.3v1.3h-1.3zM487.2 146.0h1.3v1.3h-1.3zM488.1 151.9h1.3v1.3h-1.3zM446.8 133.1h1.3v1.3h-1.3zM485.0 146.7h1.3v1.3h-1.3zM447.4 133.8h1.3v1.3h-1.3zM450.1 146.4h1.3v1.3h-1.3zM492.9 142.6h1.3v1.3h-1.3zM486.0 143.8h1.3v1.3h-1.3zM456.4 145.4h1.3v1.3h-1.3zM454.7 141.4h1.3v1.3h-1.3zM495.0 151.0h1.3v1.3h-1.3zM487.4 146.8h1.3v1.3h-1.3zM489.8 157.3h1.3v1.3h-1.3zM477.5 125.3h1.3v1.3h-1.3zM487.1 136.6h1.3v1.3h-1.3zM453.4 145.6h1.3v1.3h-1.3zM490.0 147.7h1.3v1.3h-1.3zM439.3 142.6h1.3v1.3h-1.3zM493.6 134.8h1.3v1.3h-1.3zM468.4 129.9h1.3v1.3h-1.3zM465.6 142.1h1.3v1.3h-1.3zM471.9 146.9h1.3v1.3h-1.3zM483.8 148.4h1.3v1.3h-1.3zM471.8 138.6h1.3v1.3h-1.3zM488.1 136.6h1.3v1.3h-1.3zM465.8 127.3h1.3v1.3h-1.3zM495.1 130.3h1.3v1.3h-1.3zM461.8 146.1h1.3v1.3h-1.3zM443.5 145.9h1.3v1.3h-1.3zM486.0 145.4h1.3v1.3h-1.3zM490.9 154.8h1.3v1.3h-1.3zM489.9 150.1h1.3v1.3h-1.3zM492.3 141.5h1.3v1.3h-1.3zM483.3 150.2h1.3v1.3h-1.3zM487.6 153.4h1.3v1.3h-1.3zM487.9 152.1h1.3v1.3h-1.3zM444.4 146.5h1.3v1.3h-1.3zM470.4 124.6h1.3v1.3h-1.3zM450.0 142.3h1.3v1.3h-1.3zM483.9 151.5h1.3v1.3h-1.3zM447.7 146.5h1.3v1.3h-1.3zM487.6 152.9h1.3v1.3h-1.3zM491.4 156.1h1.3v1.3h-1.3zM455.4 146.7h1.3v1.3h-1.3zM487.6 143.9h1.3v1.3h-1.3zM445.6 135.2h1.3v1.3h-1.3zM448.0 131.3h1.3v1.3h-1.3zM493.7 152.3h1.3v1.3h-1.3zM471.5 146.7h1.3v1.3h-1.3zM483.5 137.0h1.3v1.3h-1.3zM484.1 149.7h1.3v1.3h-1.3zM462.0 143.6h1.3v1.3h-1.3zM477.8 144.2h1.3v1.3h-1.3zM467.6 144.0h1.3v1.3h-1.3zM441.9 142.6h1.3v1.3h-1.3zM492.3 149.5h1.3v1.3h-1.3zM493.3 157.3h1.3v1.3h-1.3zM454.7 142.5h1.3v1.3h-1.3zM476.9 148.1h1.3v1.3h-1.3zM472.1 145.9h1.3v1.3h-1.3zM474.9 148.1h1.3v1.3h-1.3zM476.9 144.7h1.3v1.3h-1.3zM440.2 145.1h1.3v1.3h-1.3zM462.5 139.9h1.3v1.3h-1.3zM450.3 142.8h1.3v1.3h-1.3zM462.7 139.1h1.3v1.3h-1.3zM458.3 139.5h1.3v1.3h-1.3zM491.4 153.1h1.3v1.3h-1.3zM484.4 110.3h1.3v1.3h-1.3zM473.0 135.5h1.3v1.3h-1.3zM489.5 148.1h1.3v1.3h-1.3zM481.1 150.1h1.3v1.3h-1.3zM478.2 147.5h1.3v1.3h-1.3zM442.2 145.5h1.3v1.3h-1.3zM463.0 146.7h1.3v1.3h-1.3zM458.5 131.3h1.3v1.3h-1.3zM478.9 135.9h1.3v1.3h-1.3zM466.9 138.6h1.3v1.3h-1.3zM444.4 145.5h1.3v1.3h-1.3zM469.1 113.4h1.3v1.3h-1.3zM474.8 139.7h1.3v1.3h-1.3zM448.7 143.2h1.3v1.3h-1.3zM488.0 154.5h1.3v1.3h-1.3zM457.5 130.0h1.3v1.3h-1.3zM441.6 136.0h1.3v1.3h-1.3zM483.6 144.8h1.3v1.3h-1.3zM488.6 148.5h1.3v1.3h-1.3zM487.9 156.5h1.3v1.3h-1.3zM460.2 131.3h1.3v1.3h-1.3zM455.1 130.8h1.3v1.3h-1.3zM480.7 142.3h1.3v1.3h-1.3zM446.4 146.4h1.3v1.3h-1.3zM444.9 101.5h1.3v1.3h-1.3zM458.5 138.5h1.3v1.3h-1.3zM480.3 143.4h1.3v1.3h-1.3zM481.0 149.5h1.3v1.3h-1.3zM463.3 143.8h1.3v1.3h-1.3zM493.1 156.9h1.3v1.3h-1.3zM452.2 135.1h1.3v1.3h-1.3zM486.4 150.8h1.3v1.3h-1.3zM453.7 143.4h1.3v1.3h-1.3zM471.6 133.9h1.3v1.3h-1.3zM463.4 137.0h1.3v1.3h-1.3zM483.9 130.3h1.3v1.3h-1.3zM461.1 142.8h1.3v1.3h-1.3zM461.8 144.3h1.3v1.3h-1.3zM467.1 142.6h1.3v1.3h-1.3zM487.7 134.7h1.3v1.3h-1.3zM443.8 128.8h1.3v1.3h-1.3zM452.9 145.7h1.3v1.3h-1.3zM494.5 148.7h1.3v1.3h-1.3zM480.9 150.4h1.3v1.3h-1.3zM462.6 133.3h1.3v1.3h-1.3zM479.9 149.4h1.3v1.3h-1.3zM460.6 136.4h1.3v1.3h-1.3zM485.0 147.9h1.3v1.3h-1.3zM443.0 134.5h1.3v1.3h-1.3zM486.4 129.1h1.3v1.3h-1.3zM441.2 143.8h1.3v1.3h-1.3zM490.1 130.7h1.3v1.3h-1.3zM453.9 137.3h1.3v1.3h-1.3zM444.6 145.4h1.3v1.3h-1.3zM448.1 143.5h1.3v1.3h-1.3zM488.7 149.5h1.3v1.3h-1.3zM454.5 141.7h1.3v1.3h-1.3zM455.7 129.2h1.3v1.3h-1.3zM454.5 132.9h1.3v1.3h-1.3zM450.8 136.9h1.3v1.3h-1.3zM440.0 134.0h1.3v1.3h-1.3zM456.2 139.9h1.3v1.3h-1.3zM448.9 112.8h1.3v1.3h-1.3zM456.5 141.9h1.3v1.3h-1.3zM464.0 137.2h1.3v1.3h-1.3zM474.1 133.9h1.3v1.3h-1.3zM488.2 150.2h1.3v1.3h-1.3zM462.3 143.8h1.3v1.3h-1.3zM456.0 145.6h1.3v1.3h-1.3zM490.7 149.0h1.3v1.3h-1.3zM497.0 144.4h1.3v1.3h-1.3zM440.0 146.0h1.3v1.3h-1.3zM488.1 154.2h1.3v1.3h-1.3zM438.1 146.0h1.3v1.3h-1.3zM468.6 120.0h1.3v1.3h-1.3zM473.9 144.3h1.3v1.3h-1.3zM461.7 145.3h1.3v1.3h-1.3zM473.2 132.9h1.3v1.3h-1.3zM491.3 155.9h1.3v1.3h-1.3zM449.0 133.6h1.3v1.3h-1.3zM453.2 145.1h1.3v1.3h-1.3zM471.3 144.7h1.3v1.3h-1.3zM487.0 149.9h1.3v1.3h-1.3zM461.2 135.6h1.3v1.3h-1.3zM495.4 149.2h1.3v1.3h-1.3zM463.5 122.7h1.3v1.3h-1.3zM437.6 133.0h1.3v1.3h-1.3zM461.9 136.8h1.3v1.3h-1.3zM490.5 144.0h1.3v1.3h-1.3zM458.9 142.1h1.3v1.3h-1.3zM484.0 149.0h1.3v1.3h-1.3zM445.0 125.8h1.3v1.3h-1.3zM449.9 141.0h1.3v1.3h-1.3zM492.0 151.1h1.3v1.3h-1.3zM485.2 151.6h1.3v1.3h-1.3zM485.7 144.4h1.3v1.3h-1.3zM491.6 129.2h1.3v1.3h-1.3zM482.4 150.3h1.3v1.3h-1.3zM448.0 143.4h1.3v1.3h-1.3zM474.3 146.1h1.3v1.3h-1.3zM487.8 149.4h1.3v1.3h-1.3zM489.4 150.0h1.3v1.3h-1.3zM457.6 146.1h1.3v1.3h-1.3zM465.1 139.3h1.3v1.3h-1.3zM476.5 137.8h1.3v1.3h-1.3zM476.4 141.2h1.3v1.3h-1.3zM455.3 126.3h1.3v1.3h-1.3zM448.2 145.1h1.3v1.3h-1.3zM475.8 110.2h1.3v1.3h-1.3zM440.0 144.9h1.3v1.3h-1.3zM479.3 145.5h1.3v1.3h-1.3zM470.9 147.2h1.3v1.3h-1.3zM476.6 146.7h1.3v1.3h-1.3zM466.6 141.2h1.3v1.3h-1.3zM493.0 148.6h1.3v1.3h-1.3zM478.6 148.2h1.3v1.3h-1.3zM451.6 143.1h1.3v1.3h-1.3zM472.4 118.5h1.3v1.3h-1.3zM479.1 146.9h1.3v1.3h-1.3zM484.0 148.0h1.3v1.3h-1.3zM441.9 143.9h1.3v1.3h-1.3zM464.5 143.7h1.3v1.3h-1.3zM473.6 147.8h1.3v1.3h-1.3zM494.3 156.7h1.3v1.3h-1.3zM442.3 138.6h1.3v1.3h-1.3zM490.0 153.3h1.3v1.3h-1.3zM482.1 149.8h1.3v1.3h-1.3zM496.9 149.4h1.3v1.3h-1.3zM454.0 133.4h1.3v1.3h-1.3zM445.2 138.2h1.3v1.3h-1.3zM492.3 130.5h1.3v1.3h-1.3zM456.8 137.4h1.3v1.3h-1.3zM490.2 157.0h1.3v1.3h-1.3zM496.2 153.2h1.3v1.3h-1.3zM448.0 135.8h1.3v1.3h-1.3zM477.1 147.6h1.3v1.3h-1.3zM473.6 133.4h1.3v1.3h-1.3zM474.6 128.1h1.3v1.3h-1.3zM491.0 132.7h1.3v1.3h-1.3zM461.6 142.5h1.3v1.3h-1.3zM449.7 146.6h1.3v1.3h-1.3zM472.2 118.5h1.3v1.3h-1.3zM450.3 125.1h1.3v1.3h-1.3zM491.0 156.6h1.3v1.3h-1.3zM487.8 135.9h1.3v1.3h-1.3zM492.1 102.5h1.3v1.3h-1.3zM472.4 145.5h1.3v1.3h-1.3zM455.3 144.0h1.3v1.3h-1.3zM481.7 146.9h1.3v1.3h-1.3zM456.5 142.1h1.3v1.3h-1.3zM487.6 139.8h1.3v1.3h-1.3zM458.1 137.0h1.3v1.3h-1.3zM489.2 108.6h1.3v1.3h-1.3zM487.4 155.4h1.3v1.3h-1.3zM494.3 136.4h1.3v1.3h-1.3zM449.1 144.5h1.3v1.3h-1.3zM469.0 144.9h1.3v1.3h-1.3zM458.9 139.1h1.3v1.3h-1.3zM464.5 132.1h1.3v1.3h-1.3zM480.7 139.8h1.3v1.3h-1.3zM470.7 134.1h1.3v1.3h-1.3zM493.4 152.1h1.3v1.3h-1.3zM452.6 141.8h1.3v1.3h-1.3zM447.5 140.5h1.3v1.3h-1.3zM491.4 153.4h1.3v1.3h-1.3zM492.7 136.6h1.3v1.3h-1.3zM478.9 121.5h1.3v1.3h-1.3zM491.0 151.0h1.3v1.3h-1.3zM485.3 138.9h1.3v1.3h-1.3zM442.7 144.6h1.3v1.3h-1.3zM488.6 157.3h1.3v1.3h-1.3zM480.7 148.6h1.3v1.3h-1.3zM477.2 148.6h1.3v1.3h-1.3zM484.5 144.5h1.3v1.3h-1.3zM492.2 154.7h1.3v1.3h-1.3zM489.5 154.8h1.3v1.3h-1.3zM471.1 128.2h1.3v1.3h-1.3zM497.0 150.4h1.3v1.3h-1.3zM459.4 139.1h1.3v1.3h-1.3zM483.7 145.6h1.3v1.3h-1.3zM465.4 145.3h1.3v1.3h-1.3zM492.2 145.5h1.3v1.3h-1.3zM452.0 142.4h1.3v1.3h-1.3zM496.3 129.5h1.3v1.3h-1.3zM460.1 141.9h1.3v1.3h-1.3zM457.7 137.6h1.3v1.3h-1.3zM495.6 152.8h1.3v1.3h-1.3zM448.7 129.3h1.3v1.3h-1.3zM474.3 146.2h1.3v1.3h-1.3zM493.6 134.9h1.3v1.3h-1.3zM444.2 137.3h1.3v1.3h-1.3zM485.8 136.5h1.3v1.3h-1.3zM447.0 141.1h1.3v1.3h-1.3zM441.8 132.7h1.3v1.3h-1.3zM486.5 147.1h1.3v1.3h-1.3zM449.5 144.9h1.3v1.3h-1.3zM490.2 156.9h1.3v1.3h-1.3zM478.3 128.4h1.3v1.3h-1.3zM444.6 146.7h1.3v1.3h-1.3zM470.4 144.0h1.3v1.3h-1.3zM475.1 145.4h1.3v1.3h-1.3zM488.3 157.2h1.3v1.3h-1.3zM461.6 144.9h1.3v1.3h-1.3zM470.2 132.8h1.3v1.3h-1.3zM481.4 138.0h1.3v1.3h-1.3zM468.7 141.0h1.3v1.3h-1.3zM488.5 156.0h1.3v1.3h-1.3zM451.6 140.8h1.3v1.3h-1.3zM491.2 155.5h1.3v1.3h-1.3zM453.9 145.4h1.3v1.3h-1.3zM463.2 144.1h1.3v1.3h-1.3zM495.4 153.8h1.3v1.3h-1.3zM485.0 149.7h1.3v1.3h-1.3zM486.9 148.6h1.3v1.3h-1.3zM487.1 131.9h1.3v1.3h-1.3zM446.3 144.5h1.3v1.3h-1.3zM462.7 144.6h1.3v1.3h-1.3zM487.9 156.2h1.3v1.3h-1.3zM443.6 137.8h1.3v1.3h-1.3zM464.1 131.6h1.3v1.3h-1.3zM456.3 137.7h1.3v1.3h-1.3zM494.4 148.3h1.3v1.3h-1.3zM456.3 136.8h1.3v1.3h-1.3zM481.7 150.3h1.3v1.3h-1.3zM484.6 152.2h1.3v1.3h-1.3zM488.6 143.0h1.3v1.3h-1.3zM483.6 139.5h1.3v1.3h-1.3zM440.4 139.5h1.3v1.3h-1.3zM458.2 131.2h1.3v1.3h-1.3zM492.8 156.4h1.3v1.3h-1.3zM495.0 156.8h1.3v1.3h-1.3zM451.1 135.3h1.3v1.3h-1.3zM450.3 143.0h1.3v1.3h-1.3zM439.9 135.0h1.3v1.3h-1.3zM487.9 151.0h1.3v1.3h-1.3zM461.7 134.3h1.3v1.3h-1.3zM494.7 154.4h1.3v1.3h-1.3zM470.4 134.1h1.3v1.3h-1.3zM487.7 150.0h1.3v1.3h-1.3zM463.1 146.5h1.3v1.3h-1.3zM461.8 143.5h1.3v1.3h-1.3zM458.8 125.9h1.3v1.3h-1.3zM480.9 147.3h1.3v1.3h-1.3zM452.9 143.1h1.3v1.3h-1.3zM449.1 143.1h1.3v1.3h-1.3zM472.6 145.5h1.3v1.3h-1.3zM485.5 149.8h1.3v1.3h-1.3zM496.6 154.4h1.3v1.3h-1.3zM461.7 141.5h1.3v1.3h-1.3zM457.4 134.5h1.3v1.3h-1.3zM476.4 144.1h1.3v1.3h-1.3zM471.5 126.9h1.3v1.3h-1.3zM449.0 142.2h1.3v1.3h-1.3zM475.6 130.1h1.3v1.3h-1.3zM489.6 156.8h1.3v1.3h-1.3zM493.5 143.6h1.3v1.3h-1.3zM469.9 135.7h1.3v1.3h-1.3zM487.0 151.8h1.3v1.3h-1.3zM440.3 146.0h1.3v1.3h-1.3zM464.2 146.4h1.3v1.3h-1.3zM481.7 148.5h1.3v1.3h-1.3zM488.7 147.2h1.3v1.3h-1.3zM451.5 136.1h1.3v1.3h-1.3zM490.4 153.5h1.3v1.3h-1.3zM441.6 143.1h1.3v1.3h-1.3zM466.2 146.8h1.3v1.3h-1.3zM498.0 138.0h1.3v1.3h-1.3zM450.7 140.7h1.3v1.3h-1.3zM448.6 145.0h1.3v1.3h-1.3zM479.8 149.5h1.3v1.3h-1.3zM493.8 155.8h1.3v1.3h-1.3zM479.4 142.8h1.3v1.3h-1.3zM458.1 141.5h1.3v1.3h-1.3zM475.7 140.4h1.3v1.3h-1.3zM496.7 157.1h1.3v1.3h-1.3zM453.4 142.4h1.3v1.3h-1.3zM461.4 139.8h1.3v1.3h-1.3zM488.5 156.0h1.3v1.3h-1.3zM462.3 146.9h1.3v1.3h-1.3zM494.4 154.0h1.3v1.3h-1.3zM440.9 140.4h1.3v1.3h-1.3zM468.1 140.1h1.3v1.3h-1.3zM455.8 120.6h1.3v1.3h-1.3zM461.4 144.6h1.3v1.3h-1.3zM483.8 112.9h1.3v1.3h-1.3zM470.2 138.7h1.3v1.3h-1.3zM489.5 129.0h1.3v1.3h-1.3zM448.7 139.9h1.3v1.3h-1.3zM482.3 148.5h1.3v1.3h-1.3zM487.8 150.0h1.3v1.3h-1.3zM491.8 139.0h1.3v1.3h-1.3zM459.9 143.9h1.3v1.3h-1.3zM443.1 140.8h1.3v1.3h-1.3zM481.0 144.3h1.3v1.3h-1.3zM499.0 149.5h1.3v1.3h-1.3zM490.3 142.2h1.3v1.3h-1.3zM496.2 147.6h1.3v1.3h-1.3zM460.8 146.8h1.3v1.3h-1.3zM478.4 145.6h1.3v1.3h-1.3zM484.9 126.4h1.3v1.3h-1.3zM484.0 151.7h1.3v1.3h-1.3zM473.7 140.3h1.3v1.3h-1.3zM463.0 142.1h1.3v1.3h-1.3zM457.4 141.6h1.3v1.3h-1.3zM482.8 142.8h1.3v1.3h-1.3zM469.8 147.2h1.3v1.3h-1.3zM467.9 144.8h1.3v1.3h-1.3zM449.0 146.6h1.3v1.3h-1.3zM449.4 141.9h1.3v1.3h-1.3zM488.0 156.4h1.3v1.3h-1.3zM479.4 148.3h1.3v1.3h-1.3zM499.0 148.3h1.3v1.3h-1.3zM494.9 153.8h1.3v1.3h-1.3zM473.5 147.1h1.3v1.3h-1.3zM468.8 127.8h1.3v1.3h-1.3zM440.4 145.2h1.3v1.3h-1.3zM464.8 135.0h1.3v1.3h-1.3zM481.6 143.7h1.3v1.3h-1.3zM478.7 128.1h1.3v1.3h-1.3zM485.5 148.9h1.3v1.3h-1.3zM496.2 150.2h1.3v1.3h-1.3zM479.2 145.8h1.3v1.3h-1.3zM465.4 108.1h1.3v1.3h-1.3zM444.4 131.8h1.3v1.3h-1.3zM482.6 147.3h1.3v1.3h-1.3zM498.8 121.3h1.3v1.3h-1.3zM454.6 141.1h1.3v1.3h-1.3zM463.6 143.6h1.3v1.3h-1.3zM483.8 143.6h1.3v1.3h-1.3zM483.8 152.1h1.3v1.3h-1.3zM467.2 135.7h1.3v1.3h-1.3zM459.4 136.2h1.3v1.3h-1.3zM464.6 140.9h1.3v1.3h-1.3zM449.5 144.0h1.3v1.3h-1.3zM477.3 141.0h1.3v1.3h-1.3zM483.6 141.5h1.3v1.3h-1.3zM466.6 124.4h1.3v1.3h-1.3zM488.1 152.9h1.3v1.3h-1.3zM497.0 142.6h1.3v1.3h-1.3zM453.3 135.5h1.3v1.3h-1.3zM484.3 149.8h1.3v1.3h-1.3zM489.3 156.4h1.3v1.3h-1.3zM484.6 132.5h1.3v1.3h-1.3zM490.8 150.6h1.3v1.3h-1.3zM486.3 150.8h1.3v1.3h-1.3zM491.7 138.0h1.3v1.3h-1.3zM477.3 141.1h1.3v1.3h-1.3zM485.1 146.4h1.3v1.3h-1.3zM489.8 117.1h1.3v1.3h-1.3zM460.6 132.1h1.3v1.3h-1.3zM471.1 127.2h1.3v1.3h-1.3zM446.9 142.0h1.3v1.3h-1.3zM446.0 142.8h1.3v1.3h-1.3zM457.6 132.3h1.3v1.3h-1.3zM490.0 136.2h1.3v1.3h-1.3zM471.8 141.6h1.3v1.3h-1.3zM495.5 151.9h1.3v1.3h-1.3zM491.7 143.4h1.3v1.3h-1.3zM468.7 139.7h1.3v1.3h-1.3zM495.2 154.9h1.3v1.3h-1.3zM450.6 144.3h1.3v1.3h-1.3zM465.4 143.0h1.3v1.3h-1.3zM491.3 141.5h1.3v1.3h-1.3zM442.3 140.4h1.3v1.3h-1.3zM438.4 142.2h1.3v1.3h-1.3zM487.4 141.0h1.3v1.3h-1.3zM467.3 146.8h1.3v1.3h-1.3zM493.3 151.8h1.3v1.3h-1.3zM497.9 149.3h1.3v1.3h-1.3zM484.4 134.8h1.3v1.3h-1.3zM474.4 145.2h1.3v1.3h-1.3zM476.0 126.4h1.3v1.3h-1.3zM457.7 142.9h1.3v1.3h-1.3zM462.0 138.3h1.3v1.3h-1.3zM480.2 148.4h1.3v1.3h-1.3zM443.0 132.9h1.3v1.3h-1.3zM453.8 142.3h1.3v1.3h-1.3zM447.8 142.5h1.3v1.3h-1.3zM494.8 150.8h1.3v1.3h-1.3zM489.6 142.4h1.3v1.3h-1.3zM486.1 149.6h1.3v1.3h-1.3zM493.2 150.9h1.3v1.3h-1.3zM495.5 154.3h1.3v1.3h-1.3zM453.3 127.8h1.3v1.3h-1.3zM455.9 145.8h1.3v1.3h-1.3zM482.9 149.9h1.3v1.3h-1.3zM492.2 140.6h1.3v1.3h-1.3zM496.8 152.9h1.3v1.3h-1.3zM477.3 120.2h1.3v1.3h-1.3zM465.5 139.8h1.3v1.3h-1.3zM444.2 145.7h1.3v1.3h-1.3zM496.0 152.7h1.3v1.3h-1.3zM498.9 134.4h1.3v1.3h-1.3zM477.3 144.0h1.3v1.3h-1.3zM483.1 143.6h1.3v1.3h-1.3zM467.6 141.2h1.3v1.3h-1.3zM491.4 155.9h1.3v1.3h-1.3zM479.9 147.7h1.3v1.3h-1.3zM462.9 141.7h1.3v1.3h-1.3zM465.2 145.3h1.3v1.3h-1.3zM439.7 135.3h1.3v1.3h-1.3zM491.4 146.9h1.3v1.3h-1.3zM439.8 138.5h1.3v1.3h-1.3zM455.7 142.3h1.3v1.3h-1.3zM478.5 144.2h1.3v1.3h-1.3zM451.9 135.8h1.3v1.3h-1.3zM448.4 144.1h1.3v1.3h-1.3zM493.9 139.5h1.3v1.3h-1.3zM444.4 133.8h1.3v1.3h-1.3zM477.7 146.0h1.3v1.3h-1.3zM455.6 144.8h1.3v1.3h-1.3zM440.9 142.3h1.3v1.3h-1.3zM474.2 139.5h1.3v1.3h-1.3zM451.3 114.9h1.3v1.3h-1.3zM490.5 156.4h1.3v1.3h-1.3zM471.5 109.6h1.3v1.3h-1.3zM459.1 145.5h1.3v1.3h-1.3zM454.6 128.9h1.3v1.3h-1.3zM488.1 146.9h1.3v1.3h-1.3zM482.4 132.1h1.3v1.3h-1.3zM444.8 142.8h1.3v1.3h-1.3zM447.1 135.9h1.3v1.3h-1.3zM446.7 134.8h1.3v1.3h-1.3zM457.0 144.9h1.3v1.3h-1.3zM459.9 127.6h1.3v1.3h-1.3zM484.8 151.9h1.3v1.3h-1.3zM483.9 143.3h1.3v1.3h-1.3zM446.0 140.5h1.3v1.3h-1.3zM492.1 133.0h1.3v1.3h-1.3zM457.6 144.1h1.3v1.3h-1.3zM467.8 143.2h1.3v1.3h-1.3zM456.1 136.4h1.3v1.3h-1.3zM492.1 147.2h1.3v1.3h-1.3zM462.7 144.0h1.3v1.3h-1.3zM489.5 147.8h1.3v1.3h-1.3zM484.7 148.8h1.3v1.3h-1.3zM473.1 145.2h1.3v1.3h-1.3zM447.7 142.6h1.3v1.3h-1.3zM444.1 135.5h1.3v1.3h-1.3zM463.3 146.4h1.3v1.3h-1.3zM486.5 131.3h1.3v1.3h-1.3zM499.0 155.8h1.3v1.3h-1.3zM438.2 146.2h1.3v1.3h-1.3zM495.1 144.2h1.3v1.3h-1.3zM443.5 138.8h1.3v1.3h-1.3zM492.7 149.2h1.3v1.3h-1.3zM451.4 140.9h1.3v1.3h-1.3zM462.1 124.7h1.3v1.3h-1.3zM485.4 151.8h1.3v1.3h-1.3zM485.8 128.1h1.3v1.3h-1.3zM458.2 142.3h1.3v1.3h-1.3zM486.4 152.7h1.3v1.3h-1.3zM455.8 137.7h1.3v1.3h-1.3zM491.3 153.6h1.3v1.3h-1.3zM470.7 137.6h1.3v1.3h-1.3zM465.5 139.7h1.3v1.3h-1.3zM495.8 151.7h1.3v1.3h-1.3zM458.2 139.8h1.3v1.3h-1.3zM460.2 146.8h1.3v1.3h-1.3zM469.8 133.5h1.3v1.3h-1.3zM444.3 145.0h1.3v1.3h-1.3zM474.8 139.4h1.3v1.3h-1.3zM486.4 144.8h1.3v1.3h-1.3zM444.1 142.5h1.3v1.3h-1.3zM473.7 146.0h1.3v1.3h-1.3zM446.5 143.2h1.3v1.3h-1.3zM479.2 143.4h1.3v1.3h-1.3zM490.4 153.4h1.3v1.3h-1.3zM448.8 140.4h1.3v1.3h-1.3zM466.4 132.1h1.3v1.3h-1.3zM488.7 143.1h1.3v1.3h-1.3zM492.2 134.6h1.3v1.3h-1.3zM477.7 140.9h1.3v1.3h-1.3zM494.4 155.5h1.3v1.3h-1.3zM490.3 153.9h1.3v1.3h-1.3zM478.8 149.5h1.3v1.3h-1.3zM450.7 140.4h1.3v1.3h-1.3zM457.4 145.6h1.3v1.3h-1.3zM457.0 136.8h1.3v1.3h-1.3zM492.5 151.9h1.3v1.3h-1.3zM491.7 152.9h1.3v1.3h-1.3zM478.8 141.8h1.3v1.3h-1.3zM460.8 143.9h1.3v1.3h-1.3zM437.2 145.8h1.3v1.3h-1.3zM495.1 156.1h1.3v1.3h-1.3zM440.9 140.8h1.3v1.3h-1.3zM493.6 133.5h1.3v1.3h-1.3zM472.2 147.6h1.3v1.3h-1.3zM438.5 146.1h1.3v1.3h-1.3zM475.4 128.9h1.3v1.3h-1.3zM466.5 141.4h1.3v1.3h-1.3zM454.2 138.9h1.3v1.3h-1.3zM455.4 136.1h1.3v1.3h-1.3zM452.3 145.7h1.3v1.3h-1.3zM483.9 140.9h1.3v1.3h-1.3zM437.2 141.3h1.3v1.3h-1.3zM476.0 133.4h1.3v1.3h-1.3zM492.6 153.2h1.3v1.3h-1.3zM455.5 136.7h1.3v1.3h-1.3zM487.6 144.6h1.3v1.3h-1.3zM489.3 150.6h1.3v1.3h-1.3zM497.9 155.3h1.3v1.3h-1.3zM473.5 140.5h1.3v1.3h-1.3zM439.2 143.3h1.3v1.3h-1.3zM488.8 143.1h1.3v1.3h-1.3zM457.1 133.7h1.3v1.3h-1.3zM479.7 127.8h1.3v1.3h-1.3zM475.4 142.3h1.3v1.3h-1.3zM492.3 155.9h1.3v1.3h-1.3zM442.4 145.7h1.3v1.3h-1.3zM483.6 148.6h1.3v1.3h-1.3zM459.8 139.7h1.3v1.3h-1.3zM486.0 153.4h1.3v1.3h-1.3zM462.7 138.7h1.3v1.3h-1.3zM465.3 140.1h1.3v1.3h-1.3zM439.1 138.6h1.3v1.3h-1.3zM445.7 143.8h1.3v1.3h-1.3zM453.1 143.2h1.3v1.3h-1.3zM486.2 143.1h1.3v1.3h-1.3zM461.2 137.0h1.3v1.3h-1.3zM492.5 114.1h1.3v1.3h-1.3zM449.5 130.2h1.3v1.3h-1.3zM491.4 150.5h1.3v1.3h-1.3zM450.1 146.1h1.3v1.3h-1.3zM466.4 139.8h1.3v1.3h-1.3zM467.4 145.5h1.3v1.3h-1.3zM497.3 140.1h1.3v1.3h-1.3zM478.5 147.4h1.3v1.3h-1.3zM445.2 144.6h1.3v1.3h-1.3zM488.6 157.3h1.3v1.3h-1.3zM487.0 140.8h1.3v1.3h-1.3zM442.5 138.1h1.3v1.3h-1.3zM477.4 132.3h1.3v1.3h-1.3zM466.0 134.9h1.3v1.3h-1.3zM469.2 125.3h1.3v1.3h-1.3zM491.7 152.9h1.3v1.3h-1.3zM481.3 142.6h1.3v1.3h-1.3zM478.8 137.1h1.3v1.3h-1.3zM472.8 135.5h1.3v1.3h-1.3zM487.4 153.8h1.3v1.3h-1.3zM459.6 143.8h1.3v1.3h-1.3zM443.4 145.0h1.3v1.3h-1.3zM449.7 140.5h1.3v1.3h-1.3zM466.9 142.7h1.3v1.3h-1.3zM465.4 118.8h1.3v1.3h-1.3zM459.2 144.3h1.3v1.3h-1.3zM476.6 120.0h1.3v1.3h-1.3zM466.2 135.8h1.3v1.3h-1.3zM465.7 123.3h1.3v1.3h-1.3zM451.5 135.9h1.3v1.3h-1.3zM436.2 141.2h1.3v1.3h-1.3zM483.4 135.2h1.3v1.3h-1.3zM465.0 134.2h1.3v1.3h-1.3zM483.2 151.3h1.3v1.3h-1.3zM447.8 143.8h1.3v1.3h-1.3zM486.4 135.1h1.3v1.3h-1.3zM488.7 155.3h1.3v1.3h-1.3zM447.7 140.4h1.3v1.3h-1.3zM458.2 145.9h1.3v1.3h-1.3zM483.3 142.1h1.3v1.3h-1.3zM480.8 150.5h1.3v1.3h-1.3zM465.1 146.1h1.3v1.3h-1.3zM482.3 150.5h1.3v1.3h-1.3zM465.2 132.0h1.3v1.3h-1.3zM496.2 157.3h1.3v1.3h-1.3zM480.0 150.2h1.3v1.3h-1.3zM439.6 137.6h1.3v1.3h-1.3zM469.0 143.0h1.3v1.3h-1.3zM481.4 147.9h1.3v1.3h-1.3zM471.7 147.2h1.3v1.3h-1.3zM450.6 145.1h1.3v1.3h-1.3zM480.6 150.3h1.3v1.3h-1.3zM448.2 146.6h1.3v1.3h-1.3zM448.6 144.7h1.3v1.3h-1.3zM455.8 128.5h1.3v1.3h-1.3zM441.1 146.0h1.3v1.3h-1.3zM494.9 52.5h1.3v1.3h-1.3zM481.8 65.1h1.3v1.3h-1.3zM482.1 70.5h1.3v1.3h-1.3zM465.2 71.9h1.3v1.3h-1.3zM475.1 75.4h1.3v1.3h-1.3zM442.1 80.1h1.3v1.3h-1.3zM463.0 84.1h1.3v1.3h-1.3zM466.4 83.0h1.3v1.3h-1.3zM466.4 85.1h1.3v1.3h-1.3zM488.6 87.8h1.3v1.3h-1.3zM498.0 88.2h1.3v1.3h-1.3zM492.6 93.1h1.3v1.3h-1.3zM454.0 95.2h1.3v1.3h-1.3zM460.2 96.9h1.3v1.3h-1.3zM461.6 96.2h1.3v1.3h-1.3zM468.1 94.2h1.3v1.3h-1.3zM470.8 97.4h1.3v1.3h-1.3z"/>
<line x1="394.10" y1="36.35" x2="394.10" y2="164.50" stroke="#333" stroke-width="1.0" stroke-dasharray="2.8,1.2"/>
<line x1="436.30" y1="36.35" x2="436.30" y2="164.50" stroke="#333" stroke-width="1.0" stroke-dasharray="2.8,1.2"/>
<line x1="333.60" y1="157.19" x2="507.50" y2="157.19" stroke="#333" stroke-width="1.0" stroke-dasharray="2.8,1.2"/>
<rect x="333.60" y="36.35" width="173.90" height="128.15" fill="none" stroke="#1e1e1e" stroke-width="1.3"/>
<text x="408.10" y="186.50" font-size="9" textLength="12.3" lengthAdjust="spacingAndGlyphs" fill="#333">Log</text>
<text x="420.50" y="189.70" font-size="6.6" textLength="2.8" lengthAdjust="spacingAndGlyphs" fill="#333">2</text>
<text x="425.00" y="186.50" font-size="9" textLength="8.1" lengthAdjust="spacingAndGlyphs" fill="#333">FC</text>
<g transform="translate(308.5,115.0) rotate(-90)" fill="#333"><text x="0" y="0" font-size="8.8" textLength="14.9" lengthAdjust="spacingAndGlyphs">-Log</text><text x="15.7" y="0" font-size="5.6" textLength="5.7" lengthAdjust="spacingAndGlyphs">10</text><text x="22.1" y="-2.8" font-size="6.3" textLength="4.3" lengthAdjust="spacingAndGlyphs">P</text></g>
<text x="9.20" y="222.10" font-size="12.3" font-weight="bold" textLength="7.6" lengthAdjust="spacingAndGlyphs" fill="#111">C</text>
<line x1="45.20" y1="244.70" x2="48.10" y2="244.70" stroke="#222" stroke-width="1.1"/>
<text x="42.00" y="247.20" font-size="7.3" text-anchor="end" textLength="14.4" lengthAdjust="spacingAndGlyphs" fill="#333">0.00</text>
<line x1="45.20" y1="253.21" x2="48.10" y2="253.21" stroke="#222" stroke-width="1.1"/>
<text x="42.00" y="255.71" font-size="7.3" text-anchor="end" textLength="18.5" lengthAdjust="spacingAndGlyphs" fill="#333">−0.05</text>
<line x1="45.20" y1="261.72" x2="48.10" y2="261.72" stroke="#222" stroke-width="1.1"/>
<text x="42.00" y="264.22" font-size="7.3" text-anchor="end" textLength="18.5" lengthAdjust="spacingAndGlyphs" fill="#333">−0.10</text>
<line x1="45.20" y1="270.23" x2="48.10" y2="270.23" stroke="#222" stroke-width="1.1"/>
<text x="42.00" y="272.73" font-size="7.3" text-anchor="end" textLength="18.5" lengthAdjust="spacingAndGlyphs" fill="#333">−0.15</text>
<line x1="45.20" y1="278.74" x2="48.10" y2="278.74" stroke="#222" stroke-width="1.1"/>
<text x="42.00" y="281.24" font-size="7.3" text-anchor="end" textLength="18.5" lengthAdjust="spacingAndGlyphs" fill="#333">−0.20</text>
<line x1="45.20" y1="287.25" x2="48.10" y2="287.25" stroke="#222" stroke-width="1.1"/>
<text x="42.00" y="289.75" font-size="7.3" text-anchor="end" textLength="18.5" lengthAdjust="spacingAndGlyphs" fill="#333">−0.25</text>
<line x1="45.20" y1="295.76" x2="48.10" y2="295.76" stroke="#222" stroke-width="1.1"/>
<text x="42.00" y="298.26" font-size="7.3" text-anchor="end" textLength="18.5" lengthAdjust="spacingAndGlyphs" fill="#333">−0.30</text>
<line x1="45.20" y1="304.27" x2="48.10" y2="304.27" stroke="#222" stroke-width="1.1"/>
<text x="42.00" y="306.77" font-size="7.3" text-anchor="end" textLength="18.5" lengthAdjust="spacingAndGlyphs" fill="#333">−0.35</text>
<line x1="45.20" y1="312.78" x2="48.10" y2="312.78" stroke="#222" stroke-width="1.1"/>
<text x="42.00" y="315.28" font-size="7.3" text-anchor="end" textLength="18.5" lengthAdjust="spacingAndGlyphs" fill="#333">−0.40</text>
<rect x="48.6" y="316.4" width="1.0" height="24.8" fill="rgb(70,70,70)"/>
<rect x="49.6" y="316.4" width="0.9" height="24.8" fill="rgb(160,160,160)"/>
<rect x="50.5" y="316.4" width="2.1" height="24.8" fill="rgb(15,15,15)"/>
<rect x="52.6" y="316.4" width="0.6" height="24.8" fill="rgb(160,160,160)"/>
<rect x="60.0" y="316.4" width="1.5" height="24.8" fill="rgb(170,170,170)"/>
<rect x="68.0" y="316.4" width="1.0" height="24.8" fill="rgb(220,220,220)"/>
<rect x="69.0" y="316.4" width="1.0" height="24.8" fill="rgb(120,120,120)"/>
<rect x="70.0" y="316.4" width="1.0" height="24.8" fill="rgb(200,200,200)"/>
<rect x="71.0" y="316.4" width="1.5" height="24.8" fill="rgb(150,150,150)"/>
<rect x="72.5" y="316.4" width="1.0" height="24.8" fill="rgb(60,60,60)"/>
<rect x="73.5" y="316.4" width="1.5" height="24.8" fill="rgb(110,110,110)"/>
<rect x="75.0" y="316.4" width="2.5" height="24.8" fill="rgb(140,140,140)"/>
<rect x="77.5" y="316.4" width="1.5" height="24.8" fill="rgb(120,120,120)"/>
<rect x="79.0" y="316.4" width="1.0" height="24.8" fill="rgb(90,90,90)"/>
<rect x="80.0" y="316.4" width="1.5" height="24.8" fill="rgb(230,230,230)"/>
<rect x="82.5" y="316.4" width="1.0" height="24.8" fill="rgb(200,200,200)"/>
<rect x="83.5" y="316.4" width="1.0" height="24.8" fill="rgb(120,120,120)"/>
<rect x="84.5" y="316.4" width="1.5" height="24.8" fill="rgb(90,90,90)"/>
<rect x="86.0" y="316.4" width="1.5" height="24.8" fill="rgb(150,150,150)"/>
<rect x="87.5" y="316.4" width="1.0" height="24.8" fill="rgb(40,40,40)"/>
<rect x="88.5" y="316.4" width="1.0" height="24.8" fill="rgb(110,110,110)"/>
<rect x="89.5" y="316.4" width="1.5" height="24.8" fill="rgb(160,160,160)"/>
<rect x="91.0" y="316.4" width="2.0" height="24.8" fill="rgb(130,130,130)"/>
<rect x="93.0" y="316.4" width="2.0" height="24.8" fill="rgb(150,150,150)"/>
<rect x="95.0" y="316.4" width="1.0" height="24.8" fill="rgb(170,170,170)"/>
<rect x="96.0" y="316.4" width="1.5" height="24.8" fill="rgb(230,230,230)"/>
<rect x="97.5" y="316.4" width="1.0" height="24.8" fill="rgb(160,160,160)"/>
<rect x="98.5" y="316.4" width="1.5" height="24.8" fill="rgb(130,130,130)"/>
<rect x="100.0" y="316.4" width="2.0" height="24.8" fill="rgb(140,140,140)"/>
<rect x="102.0" y="316.4" width="1.5" height="24.8" fill="rgb(100,100,100)"/>
<rect x="103.5" y="316.4" width="1.5" height="24.8" fill="rgb(120,120,120)"/>
<rect x="105.0" y="316.4" width="1.0" height="24.8" fill="rgb(70,70,70)"/>
<rect x="106.0" y="316.4" width="1.5" height="24.8" fill="rgb(200,200,200)"/>
<rect x="107.5" y="316.4" width="1.0" height="24.8" fill="rgb(160,160,160)"/>
<rect x="108.5" y="316.4" width="1.0" height="24.8" fill="rgb(90,90,90)"/>
<rect x="109.5" y="316.4" width="1.0" height="24.8" fill="rgb(150,150,150)"/>
<rect x="110.5" y="316.4" width="1.0" height="24.8" fill="rgb(110,110,110)"/>
<rect x="111.5" y="316.4" width="1.0" height="24.8" fill="rgb(140,140,140)"/>
<rect x="112.5" y="316.4" width="1.0" height="24.8" fill="rgb(210,210,210)"/>
<rect x="117.5" y="316.4" width="0.8" height="24.8" fill="rgb(150,150,150)"/>
<rect x="118.3" y="316.4" width="0.7" height="24.8" fill="rgb(60,60,60)"/>
<rect x="119.0" y="316.4" width="1.5" height="24.8" fill="rgb(0,0,0)"/>
<rect x="120.5" y="316.4" width="1.0" height="24.8" fill="rgb(120,120,120)"/>
<rect x="121.5" y="316.4" width="1.0" height="24.8" fill="rgb(90,90,90)"/>
<rect x="122.5" y="316.4" width="1.5" height="24.8" fill="rgb(130,130,130)"/>
<rect x="124.0" y="316.4" width="1.5" height="24.8" fill="rgb(90,90,90)"/>
<rect x="125.5" y="316.4" width="1.5" height="24.8" fill="rgb(140,140,140)"/>
<rect x="127.0" y="316.4" width="1.0" height="24.8" fill="rgb(160,160,160)"/>
<rect x="128.0" y="316.4" width="1.0" height="24.8" fill="rgb(100,100,100)"/>
<rect x="129.0" y="316.4" width="1.0" height="24.8" fill="rgb(60,60,60)"/>
<rect x="130.0" y="316.4" width="1.0" height="24.8" fill="rgb(90,90,90)"/>
<rect x="131.0" y="316.4" width="1.5" height="24.8" fill="rgb(140,140,140)"/>
<rect x="132.5" y="316.4" width="1.5" height="24.8" fill="rgb(100,100,100)"/>
<rect x="134.0" y="316.4" width="1.0" height="24.8" fill="rgb(60,60,60)"/>
<rect x="135.0" y="316.4" width="1.5" height="24.8" fill="rgb(40,40,40)"/>
<rect x="136.5" y="316.4" width="1.5" height="24.8" fill="rgb(80,80,80)"/>
<rect x="138.0" y="316.4" width="2.0" height="24.8" fill="rgb(120,120,120)"/>
<rect x="140.0" y="316.4" width="1.5" height="24.8" fill="rgb(170,170,170)"/>
<rect x="141.5" y="316.4" width="1.5" height="24.8" fill="rgb(60,60,60)"/>
<rect x="143.0" y="316.4" width="2.0" height="24.8" fill="rgb(100,100,100)"/>
<rect x="145.0" y="316.4" width="2.0" height="24.8" fill="rgb(160,160,160)"/>
<rect x="147.0" y="316.4" width="1.5" height="24.8" fill="rgb(120,120,120)"/>
<rect x="148.5" y="316.4" width="2.0" height="24.8" fill="rgb(150,150,150)"/>
<rect x="150.5" y="316.4" width="2.0" height="24.8" fill="rgb(90,90,90)"/>
<rect x="152.5" y="316.4" width="1.0" height="24.8" fill="rgb(50,50,50)"/>
<rect x="153.5" y="316.4" width="1.5" height="24.8" fill="rgb(10,10,10)"/>
<rect x="155.0" y="316.4" width="1.5" height="24.8" fill="rgb(90,90,90)"/>
<rect x="156.5" y="316.4" width="1.0" height="24.8" fill="rgb(190,190,190)"/>
<rect x="157.5" y="316.4" width="1.5" height="24.8" fill="rgb(110,110,110)"/>
<rect x="159.0" y="316.4" width="3.0" height="24.8" fill="rgb(90,90,90)"/>
<rect x="162.0" y="316.4" width="1.0" height="24.8" fill="rgb(20,20,20)"/>
<rect x="163.0" y="316.4" width="1.0" height="24.8" fill="rgb(130,130,130)"/>
<rect x="164.0" y="316.4" width="2.0" height="24.8" fill="rgb(110,110,110)"/>
<rect x="166.0" y="316.4" width="2.0" height="24.8" fill="rgb(60,60,60)"/>
<rect x="168.0" y="316.4" width="1.5" height="24.8" fill="rgb(90,90,90)"/>
<rect x="169.5" y="316.4" width="1.5" height="24.8" fill="rgb(40,40,40)"/>
<rect x="171.0" y="316.4" width="1.5" height="24.8" fill="rgb(100,100,100)"/>
<rect x="172.5" y="316.4" width="1.5" height="24.8" fill="rgb(70,70,70)"/>
<rect x="174.0" y="316.4" width="1.0" height="24.8" fill="rgb(140,140,140)"/>
<rect x="175.0" y="316.4" width="2.0" height="24.8" fill="rgb(60,60,60)"/>
<rect x="177.0" y="316.4" width="1.0" height="24.8" fill="rgb(100,100,100)"/>
<rect x="178.0" y="316.4" width="2.0" height="24.8" fill="rgb(60,60,60)"/>
<rect x="180.0" y="316.4" width="1.0" height="24.8" fill="rgb(130,130,130)"/>
<rect x="181.0" y="316.4" width="2.0" height="24.8" fill="rgb(60,60,60)"/>
<rect x="183.0" y="316.4" width="2.0" height="24.8" fill="rgb(70,70,70)"/>
<rect x="185.0" y="316.4" width="1.0" height="24.8" fill="rgb(50,50,50)"/>
<rect x="186.0" y="316.4" width="1.0" height="24.8" fill="rgb(80,80,80)"/>
<rect x="187.0" y="316.4" width="1.5" height="24.8" fill="rgb(50,50,50)"/>
<rect x="188.5" y="316.4" width="2.0" height="24.8" fill="rgb(15,15,15)"/>
<rect x="190.5" y="316.4" width="1.5" height="24.8" fill="rgb(160,160,160)"/>
<rect x="192.0" y="316.4" width="1.5" height="24.8" fill="rgb(60,60,60)"/>
<rect x="193.5" y="316.4" width="1.5" height="24.8" fill="rgb(40,40,40)"/>
<rect x="195.0" y="316.4" width="1.5" height="24.8" fill="rgb(70,70,70)"/>
<rect x="196.5" y="316.4" width="1.5" height="24.8" fill="rgb(30,30,30)"/>
<rect x="198.0" y="316.4" width="1.0" height="24.8" fill="rgb(150,150,150)"/>
<rect x="199.0" y="316.4" width="2.0" height="24.8" fill="rgb(20,20,20)"/>
<rect x="201.0" y="316.4" width="1.0" height="24.8" fill="rgb(40,40,40)"/>
<rect x="202.0" y="316.4" width="1.0" height="24.8" fill="rgb(70,70,70)"/>
<rect x="203.0" y="316.4" width="9.0" height="24.8" fill="rgb(12,12,12)"/>
<rect x="212.0" y="316.4" width="1.0" height="24.8" fill="rgb(60,60,60)"/>
<rect x="213.0" y="316.4" width="1.0" height="24.8" fill="rgb(130,130,130)"/>
<rect x="214.0" y="316.4" width="1.0" height="24.8" fill="rgb(60,60,60)"/>
<rect x="215.0" y="316.4" width="3.6" height="24.8" fill="rgb(10,10,10)"/>
<rect x="48.8" y="341.5" width="47.4" height="6.2" fill="#e63c44"/>
<rect x="96.2" y="341.5" width="27.7" height="6.2" fill="#ec5a68"/>
<rect x="123.9" y="341.5" width="21.4" height="6.2" fill="#ef6e76"/>
<rect x="145.3" y="341.5" width="20.1" height="6.2" fill="#f0b6d6"/>
<rect x="165.4" y="341.5" width="12.1" height="6.2" fill="#dcd8f0"/>
<rect x="177.5" y="341.5" width="8.7" height="6.2" fill="#c0bae6"/>
<rect x="186.2" y="341.5" width="12.1" height="6.2" fill="#6f6cc6"/>
<rect x="198.3" y="341.5" width="12.1" height="6.2" fill="#5a58bc"/>
<rect x="210.4" y="341.5" width="8.2" height="6.2" fill="#3a3aa6"/>
<polygon fill="#b9b9c1" points="48.8,380.5 48.8,366.4 49.5,368.5 50.5,370.8 52.0,372.6 54.0,373.6 57.0,374.2 65.0,374.8 80.0,375.6 100.0,376.8 120.0,378.2 135.0,379.3 150.0,380.0 164.2,380.5 180.0,381.3 195.0,382.3 203.0,383.2 210.0,384.6 214.0,386.0 216.5,387.6 218.0,389.5 218.7,392.5 219.1,396.8 219.1,380.5"/>
<line x1="164.2" y1="348.3" x2="164.2" y2="399.5" stroke="#222" stroke-width="1" stroke-dasharray="2.6,1.3"/>
<text x="50" y="352.7" font-size="4.3" font-weight="bold" fill="#d3222e" textLength="62" lengthAdjust="spacingAndGlyphs">'BCL11B' (positively correlated)</text>
<text x="143.1" y="375.4" font-size="4.6" font-weight="bold" fill="#111" textLength="40" lengthAdjust="spacingAndGlyphs">Zero cross at 11692</text>
<text x="133.1" y="397.4" font-size="4.4" font-weight="bold" fill="#1d58a0" textLength="61" lengthAdjust="spacingAndGlyphs">'Other' (negatively correlated)</text>
<polyline fill="none" stroke="#0f6b4f" stroke-width="1.75" stroke-linejoin="round" points="48.5,244.1 49.5,243.5 50.5,243.4 51.6,242.9 52.7,242.4 53.9,243.3 55.0,244.3 56.0,245.1 57.0,246.4 58.0,247.6 59.2,247.9 60.3,248.2 61.5,249.2 62.7,251.1 63.8,251.6 65.0,251.9 66.1,253.5 67.1,254.2 68.2,255.4 69.2,256.1 70.2,256.7 71.2,257.8 72.2,258.3 73.6,257.9 75.0,258.1 76.3,258.4 77.6,257.6 78.9,258.2 80.0,258.6 81.0,259.4 82.1,260.2 83.2,261.8 84.3,262.9 85.5,263.0 86.8,262.9 88.0,263.4 89.1,263.3 90.2,263.4 91.2,264.1 92.3,263.8 93.3,264.6 94.3,264.5 95.3,263.5 96.3,264.3 97.5,264.4 98.8,265.4 100.0,266.0 101.1,265.9 102.2,267.0 103.2,267.6 104.3,268.5 105.4,267.9 106.5,268.8 107.5,268.3 108.6,268.7 109.7,268.7 110.8,270.0 111.8,270.3 112.9,271.5 113.9,271.4 115.0,272.0 116.1,272.4 117.2,272.2 118.2,272.8 119.3,273.7 120.4,273.5 121.5,273.9 122.5,274.1 123.6,274.6 124.6,274.5 125.7,274.8 126.9,274.7 128.1,274.3 129.3,273.6 130.5,273.9 131.6,273.7 132.8,274.4 133.9,275.0 135.0,276.3 136.0,276.7 137.0,277.3 138.0,278.0 139.0,279.3 140.0,279.6 141.0,280.4 142.0,281.6 143.0,281.6 144.0,282.5 145.0,283.2 146.0,283.6 147.0,284.3 148.0,285.3 149.0,285.3 150.0,285.6 151.1,286.1 152.2,287.3 153.3,288.0 154.5,288.9 155.6,289.3 156.7,290.0 157.8,290.6 158.9,291.4 160.1,292.3 161.2,292.8 162.3,294.2 163.4,296.0 164.6,296.7 165.7,297.2 166.8,299.6 167.9,300.3 168.9,300.7 169.9,302.2 171.0,302.8 172.0,303.4 173.0,304.3 174.0,304.9 175.0,306.1 176.0,307.2 177.0,307.5 178.0,308.5 179.0,309.8 180.0,309.1 181.0,310.0 182.0,310.3 183.0,310.4 184.3,310.7 185.7,311.3 186.8,311.1 188.0,310.3 189.1,310.4 190.1,310.5 192.0,309.6 193.3,308.5 194.6,307.1 195.7,306.4 196.9,306.3 198.0,305.2 199.1,304.2 200.2,303.5 201.3,302.1 202.4,300.0 203.5,298.2 204.6,295.9 205.7,292.5 206.9,288.3 208.0,284.1 209.1,282.3 210.2,279.0 211.3,275.3 212.8,272.8 214.2,269.0 215.3,262.8 216.9,253.3 218.0,249.0 219.1,245.0"/>
<line x1="48.10" y1="315.90" x2="226.85" y2="315.90" stroke="#cfcfcf" stroke-width="0.8"/>
<line x1="48.10" y1="341.30" x2="226.85" y2="341.30" stroke="#cfcfcf" stroke-width="0.8"/>
<line x1="48.10" y1="347.90" x2="226.85" y2="347.90" stroke="#cfcfcf" stroke-width="0.8"/>
<rect x="48.10" y="238.10" width="178.75" height="161.50" fill="none" stroke="#1e1e1e" stroke-width="1.3"/>
<line x1="45.20" y1="353.95" x2="48.10" y2="353.95" stroke="#222" stroke-width="1.1"/>
<text x="42.40" y="356.95" font-size="8.2" text-anchor="end" fill="#333">3</text>
<line x1="45.20" y1="362.80" x2="48.10" y2="362.80" stroke="#222" stroke-width="1.1"/>
<text x="42.40" y="365.80" font-size="8.2" text-anchor="end" fill="#333">2</text>
<line x1="45.20" y1="371.65" x2="48.10" y2="371.65" stroke="#222" stroke-width="1.1"/>
<text x="42.40" y="374.65" font-size="8.2" text-anchor="end" fill="#333">1</text>
<line x1="45.20" y1="380.50" x2="48.10" y2="380.50" stroke="#222" stroke-width="1.1"/>
<text x="42.40" y="383.50" font-size="8.2" text-anchor="end" fill="#333">0</text>
<line x1="45.20" y1="389.35" x2="48.10" y2="389.35" stroke="#222" stroke-width="1.1"/>
<text x="42.40" y="392.35" font-size="8.2" text-anchor="end" fill="#333">−1</text>
<line x1="45.20" y1="398.20" x2="48.10" y2="398.20" stroke="#222" stroke-width="1.1"/>
<text x="42.40" y="401.20" font-size="8.2" text-anchor="end" fill="#333">−2</text>
<line x1="47.90" y1="399.60" x2="47.90" y2="402.20" stroke="#222" stroke-width="1.1"/>
<text x="47.90" y="410.40" font-size="8.0" text-anchor="middle" fill="#333">0</text>
<line x1="68.00" y1="399.60" x2="68.00" y2="402.20" stroke="#222" stroke-width="1.1"/>
<text x="64.00" y="410.40" font-size="8.0" text-anchor="middle" textLength="17.5" lengthAdjust="spacingAndGlyphs" fill="#333">2,000</text>
<line x1="88.10" y1="399.60" x2="88.10" y2="402.20" stroke="#222" stroke-width="1.1"/>
<text x="84.10" y="410.40" font-size="8.0" text-anchor="middle" textLength="17.5" lengthAdjust="spacingAndGlyphs" fill="#333">4,000</text>
<line x1="108.20" y1="399.60" x2="108.20" y2="402.20" stroke="#222" stroke-width="1.1"/>
<text x="104.20" y="410.40" font-size="8.0" text-anchor="middle" textLength="17.5" lengthAdjust="spacingAndGlyphs" fill="#333">6,000</text>
<line x1="128.30" y1="399.60" x2="128.30" y2="402.20" stroke="#222" stroke-width="1.1"/>
<text x="124.30" y="410.40" font-size="8.0" text-anchor="middle" textLength="17.5" lengthAdjust="spacingAndGlyphs" fill="#333">8,000</text>
<line x1="148.40" y1="399.60" x2="148.40" y2="402.20" stroke="#222" stroke-width="1.1"/>
<text x="145.50" y="410.40" font-size="8.0" text-anchor="middle" textLength="21.5" lengthAdjust="spacingAndGlyphs" fill="#333">10,000</text>
<line x1="168.50" y1="399.60" x2="168.50" y2="402.20" stroke="#222" stroke-width="1.1"/>
<text x="165.60" y="410.40" font-size="8.0" text-anchor="middle" textLength="21.5" lengthAdjust="spacingAndGlyphs" fill="#333">12,000</text>
<line x1="188.60" y1="399.60" x2="188.60" y2="402.20" stroke="#222" stroke-width="1.1"/>
<text x="185.70" y="410.40" font-size="8.0" text-anchor="middle" textLength="21.5" lengthAdjust="spacingAndGlyphs" fill="#333">14,000</text>
<line x1="208.70" y1="399.60" x2="208.70" y2="402.20" stroke="#222" stroke-width="1.1"/>
<text x="205.80" y="410.40" font-size="8.0" text-anchor="middle" textLength="21.5" lengthAdjust="spacingAndGlyphs" fill="#333">16,000</text>
<text x="92.70" y="423.30" font-size="9.2" textLength="80" lengthAdjust="spacingAndGlyphs" fill="#333">Rank in Ordered Dataset</text>
<text transform="translate(18.4,313.5) rotate(-90)" font-size="8.8" textLength="72" lengthAdjust="spacingAndGlyphs" fill="#333">Enrichment Score (ES)</text>
<text transform="translate(19.0,403) rotate(-90)" font-size="8.8" textLength="59" lengthAdjust="spacingAndGlyphs" fill="#333">Ranked List Metric</text>
<text transform="translate(29.0,399) rotate(-90)" font-size="8.8" textLength="52" lengthAdjust="spacingAndGlyphs" fill="#333">(signal to noise)</text>
<text x="174.80" y="249.10" font-size="7.2" textLength="36.3" lengthAdjust="spacingAndGlyphs" fill="#262626">FDR = 0.07</text>
<text x="174.80" y="257.70" font-size="7.2" textLength="36.3" lengthAdjust="spacingAndGlyphs" fill="#262626">NES = −1.4</text>
<rect x="49.10" y="430.50" width="197.30" height="10.90" fill="#fff" stroke="#2a2a2a" stroke-width="1.3" rx="1"/>
<line x1="51.60" y1="436.40" x2="58.70" y2="436.40" stroke="#0d6b50" stroke-width="1.8"/>
<text x="61.80" y="438.60" font-size="7.6" font-weight="bold" textLength="61.2" lengthAdjust="spacingAndGlyphs" fill="#1a1a1a">Enrichment profile</text>
<line x1="130.20" y1="436.40" x2="136.40" y2="436.40" stroke="#111" stroke-width="1.4"/>
<text x="139.00" y="438.60" font-size="7.6" textLength="13.5" lengthAdjust="spacingAndGlyphs" fill="#262626">Hits</text>
<line x1="161.70" y1="436.40" x2="167.90" y2="436.40" stroke="#aaa" stroke-width="1"/>
<text x="170.60" y="438.60" font-size="7.6" textLength="73.2" lengthAdjust="spacingAndGlyphs" fill="#262626">Ranking metric scores</text>
<text x="246.00" y="222.00" font-size="11.5" font-weight="bold" fill="#111">D</text>
<circle cx="343.40" cy="218.80" r="2.4" fill="#1d5894"/>
<text x="350.00" y="221.40" font-size="7.5" textLength="23.7" lengthAdjust="spacingAndGlyphs" fill="#2b2b2b">DOWN</text>
<circle cx="384.10" cy="218.80" r="2.4" fill="#bdbdbd"/>
<text x="389.90" y="221.40" font-size="7.5" textLength="25.2" lengthAdjust="spacingAndGlyphs" fill="#2b2b2b">Not Sig</text>
<circle cx="425.30" cy="218.80" r="2.4" fill="#c41d33"/>
<text x="431.20" y="221.40" font-size="7.5" textLength="10" lengthAdjust="spacingAndGlyphs" fill="#2b2b2b">UP</text>
<line x1="269.80" y1="259.70" x2="273.40" y2="259.70" stroke="#222" stroke-width="1.1"/>
<text x="267.90" y="262.50" font-size="8.3" text-anchor="end" textLength="8.3" lengthAdjust="spacingAndGlyphs" fill="#333">30</text>
<line x1="269.80" y1="307.70" x2="273.40" y2="307.70" stroke="#222" stroke-width="1.1"/>
<text x="267.90" y="310.50" font-size="8.3" text-anchor="end" textLength="8.3" lengthAdjust="spacingAndGlyphs" fill="#333">20</text>
<line x1="269.80" y1="355.70" x2="273.40" y2="355.70" stroke="#222" stroke-width="1.1"/>
<text x="267.90" y="358.50" font-size="8.3" text-anchor="end" textLength="8.3" lengthAdjust="spacingAndGlyphs" fill="#333">10</text>
<line x1="269.80" y1="403.70" x2="273.40" y2="403.70" stroke="#222" stroke-width="1.1"/>
<text x="267.90" y="406.50" font-size="8.3" text-anchor="end" fill="#333">0</text>
<line x1="314.50" y1="412.20" x2="314.50" y2="415.00" stroke="#222" stroke-width="1.1"/>
<text x="314.75" y="425.00" font-size="8.2" text-anchor="middle" textLength="14.1" lengthAdjust="spacingAndGlyphs" fill="#333">−2.5</text>
<line x1="366.20" y1="412.20" x2="366.20" y2="415.00" stroke="#222" stroke-width="1.1"/>
<text x="366.20" y="425.00" font-size="8.2" text-anchor="middle" fill="#333">0.0</text>
<line x1="417.90" y1="412.20" x2="417.90" y2="415.00" stroke="#222" stroke-width="1.1"/>
<text x="417.90" y="425.00" font-size="8.2" text-anchor="middle" fill="#333">2.5</text>
<line x1="469.60" y1="412.20" x2="469.60" y2="415.00" stroke="#222" stroke-width="1.1"/>
<text x="469.60" y="425.00" font-size="8.2" text-anchor="middle" fill="#333">5.0</text>
<g fill="#c4c4c4"><circle cx="349.1" cy="401.4" r="1.3"/><circle cx="360.8" cy="400.8" r="1.3"/><circle cx="375.9" cy="403.4" r="1.3"/><circle cx="351.8" cy="401.4" r="1.3"/><circle cx="367.6" cy="398.9" r="1.3"/><circle cx="366.8" cy="401.5" r="1.3"/><circle cx="363.9" cy="398.1" r="1.3"/><circle cx="366.4" cy="399.9" r="1.3"/><circle cx="362.8" cy="397.1" r="1.3"/><circle cx="360.8" cy="398.6" r="1.3"/><circle cx="360.4" cy="399.6" r="1.3"/><circle cx="369.8" cy="400.4" r="1.3"/><circle cx="345.6" cy="402.1" r="1.3"/><circle cx="351.6" cy="400.0" r="1.3"/><circle cx="357.4" cy="398.9" r="1.3"/><circle cx="374.1" cy="402.4" r="1.3"/><circle cx="356.2" cy="401.3" r="1.3"/><circle cx="360.4" cy="395.9" r="1.3"/><circle cx="362.5" cy="397.9" r="1.3"/><circle cx="363.0" cy="395.8" r="1.3"/><circle cx="375.3" cy="403.7" r="1.3"/><circle cx="368.8" cy="399.2" r="1.3"/><circle cx="371.2" cy="401.4" r="1.3"/><circle cx="360.4" cy="401.3" r="1.3"/><circle cx="353.4" cy="401.4" r="1.3"/><circle cx="355.2" cy="402.0" r="1.3"/><circle cx="363.6" cy="400.6" r="1.3"/><circle cx="359.2" cy="398.5" r="1.3"/><circle cx="367.6" cy="401.9" r="1.3"/><circle cx="350.4" cy="401.0" r="1.3"/><circle cx="357.9" cy="399.5" r="1.3"/><circle cx="355.7" cy="398.3" r="1.3"/><circle cx="374.8" cy="405.4" r="1.3"/><circle cx="349.7" cy="400.9" r="1.3"/><circle cx="355.9" cy="397.7" r="1.3"/><circle cx="362.2" cy="399.7" r="1.3"/><circle cx="349.0" cy="402.3" r="1.3"/><circle cx="366.4" cy="399.7" r="1.3"/><circle cx="377.0" cy="402.1" r="1.3"/><circle cx="362.2" cy="398.8" r="1.3"/><circle cx="346.7" cy="401.7" r="1.3"/><circle cx="350.6" cy="400.9" r="1.3"/><circle cx="375.0" cy="401.7" r="1.3"/><circle cx="345.3" cy="403.5" r="1.3"/><circle cx="358.3" cy="401.0" r="1.3"/><circle cx="352.6" cy="401.8" r="1.3"/><circle cx="358.0" cy="399.1" r="1.3"/><circle cx="367.5" cy="401.4" r="1.3"/><circle cx="356.9" cy="399.4" r="1.3"/><circle cx="360.8" cy="398.2" r="1.3"/><circle cx="361.5" cy="399.6" r="1.3"/><circle cx="359.2" cy="401.5" r="1.3"/><circle cx="363.1" cy="401.6" r="1.3"/><circle cx="345.0" cy="401.9" r="1.3"/><circle cx="369.6" cy="401.7" r="1.3"/><circle cx="363.0" cy="399.2" r="1.3"/><circle cx="373.0" cy="404.0" r="1.3"/><circle cx="362.5" cy="400.0" r="1.3"/><circle cx="366.3" cy="398.3" r="1.3"/><circle cx="366.4" cy="398.0" r="1.3"/><circle cx="370.1" cy="402.3" r="1.3"/><circle cx="345.9" cy="403.2" r="1.3"/><circle cx="372.4" cy="402.1" r="1.3"/><circle cx="365.6" cy="399.0" r="1.3"/><circle cx="356.4" cy="400.3" r="1.3"/><circle cx="347.5" cy="403.0" r="1.3"/><circle cx="373.0" cy="403.3" r="1.3"/><circle cx="349.3" cy="400.7" r="1.3"/><circle cx="373.6" cy="401.3" r="1.3"/><circle cx="353.7" cy="400.3" r="1.3"/><circle cx="366.1" cy="399.2" r="1.3"/><circle cx="360.6" cy="398.3" r="1.3"/><circle cx="368.1" cy="399.9" r="1.3"/><circle cx="370.9" cy="402.7" r="1.3"/><circle cx="358.9" cy="396.2" r="1.3"/><circle cx="354.0" cy="400.0" r="1.3"/><circle cx="351.8" cy="401.6" r="1.3"/><circle cx="350.4" cy="399.1" r="1.3"/><circle cx="373.9" cy="401.9" r="1.3"/><circle cx="349.3" cy="400.2" r="1.3"/><circle cx="358.3" cy="399.8" r="1.3"/><circle cx="368.6" cy="399.5" r="1.3"/><circle cx="365.4" cy="398.5" r="1.3"/><circle cx="356.3" cy="399.6" r="1.3"/><circle cx="363.5" cy="397.8" r="1.3"/><circle cx="361.4" cy="401.6" r="1.3"/><circle cx="358.9" cy="398.9" r="1.3"/><circle cx="351.0" cy="401.2" r="1.3"/><circle cx="372.3" cy="401.0" r="1.3"/><circle cx="352.6" cy="400.9" r="1.3"/><circle cx="351.3" cy="399.6" r="1.3"/><circle cx="360.5" cy="398.4" r="1.3"/><circle cx="373.1" cy="400.7" r="1.3"/><circle cx="370.9" cy="401.9" r="1.3"/><circle cx="374.1" cy="403.1" r="1.3"/><circle cx="363.0" cy="399.6" r="1.3"/><circle cx="361.0" cy="399.7" r="1.3"/><circle cx="374.1" cy="402.0" r="1.3"/><circle cx="366.2" cy="401.2" r="1.3"/><circle cx="349.4" cy="401.3" r="1.3"/><circle cx="370.4" cy="403.5" r="1.3"/><circle cx="361.6" cy="398.5" r="1.3"/><circle cx="361.3" cy="400.2" r="1.3"/><circle cx="368.9" cy="400.9" r="1.3"/><circle cx="351.8" cy="399.9" r="1.3"/><circle cx="360.8" cy="399.3" r="1.3"/><circle cx="369.9" cy="401.1" r="1.3"/><circle cx="368.5" cy="399.6" r="1.3"/><circle cx="352.3" cy="399.6" r="1.3"/><circle cx="376.8" cy="402.3" r="1.3"/><circle cx="367.1" cy="399.9" r="1.3"/><circle cx="352.4" cy="400.0" r="1.3"/><circle cx="357.8" cy="397.5" r="1.3"/><circle cx="359.8" cy="399.1" r="1.3"/><circle cx="375.1" cy="400.1" r="1.3"/><circle cx="375.2" cy="403.4" r="1.3"/><circle cx="375.0" cy="403.5" r="1.3"/><circle cx="368.3" cy="400.3" r="1.3"/><circle cx="359.3" cy="397.0" r="1.3"/><circle cx="365.1" cy="400.3" r="1.3"/></g>
<g fill="#c8102e"><circle cx="425.7" cy="261.4" r="1.25"/><circle cx="435.8" cy="272.7" r="1.25"/><circle cx="481.9" cy="269.8" r="1.25"/><circle cx="441.2" cy="316.2" r="1.25"/><circle cx="445.0" cy="324.0" r="1.25"/><circle cx="458.5" cy="334.6" r="1.25"/><circle cx="403.0" cy="336.0" r="1.25"/><circle cx="411.0" cy="339.8" r="1.25"/><circle cx="424.4" cy="345.2" r="1.25"/><circle cx="428.7" cy="343.8" r="1.25"/><circle cx="390.2" cy="346.2" r="1.25"/><circle cx="390.2" cy="351.0" r="1.25"/><circle cx="414.6" cy="348.7" r="1.25"/><circle cx="447.3" cy="364.0" r="1.25"/><circle cx="448.8" cy="370.2" r="1.25"/><circle cx="415.2" cy="388.5" r="1.25"/><circle cx="390.2" cy="346.5" r="1.25"/><circle cx="389.9" cy="350.9" r="1.25"/><circle cx="414.9" cy="348.6" r="1.25"/><circle cx="394.9" cy="356.4" r="1.25"/><circle cx="404.3" cy="356.4" r="1.25"/><circle cx="401.2" cy="360.2" r="1.25"/><circle cx="388.7" cy="363.4" r="1.25"/><circle cx="387.4" cy="369.3" r="1.25"/><circle cx="393.4" cy="369.6" r="1.25"/><circle cx="382.1" cy="374.3" r="1.25"/><circle cx="397.3" cy="374.0" r="1.25"/><circle cx="406.1" cy="375.5" r="1.25"/><circle cx="377.0" cy="379.0" r="1.25"/><circle cx="382.5" cy="381.7" r="1.25"/><circle cx="385.6" cy="381.3" r="1.25"/><circle cx="381.7" cy="383.6" r="1.25"/><circle cx="393.4" cy="385.2" r="1.25"/><circle cx="398.0" cy="386.0" r="1.25"/><circle cx="406.6" cy="384.4" r="1.25"/><circle cx="415.2" cy="387.5" r="1.25"/><circle cx="416.4" cy="389.5" r="1.25"/><circle cx="403.5" cy="388.3" r="1.25"/><circle cx="398.8" cy="394.8" r="1.25"/><circle cx="377.8" cy="386.7" r="1.25"/><circle cx="379.3" cy="391.4" r="1.25"/><circle cx="382.5" cy="393.7" r="1.25"/><circle cx="386.4" cy="394.5" r="1.25"/><circle cx="390.2" cy="396.1" r="1.25"/><circle cx="392.6" cy="395.3" r="1.25"/><circle cx="384.8" cy="389.8" r="1.25"/><circle cx="388.7" cy="391.4" r="1.25"/><circle cx="378.6" cy="396.1" r="1.25"/><circle cx="381.7" cy="396.9" r="1.25"/><circle cx="377.8" cy="399.2" r="1.25"/><circle cx="380.1" cy="401.5" r="1.25"/><circle cx="384.0" cy="400.7" r="1.25"/><circle cx="387.1" cy="400.0" r="1.25"/><circle cx="391.8" cy="399.2" r="1.25"/><circle cx="377.0" cy="402.3" r="1.25"/><circle cx="380.5" cy="396.9" r="1.25"/><circle cx="378.1" cy="391.7" r="1.25"/><circle cx="382.1" cy="403.9" r="1.25"/><circle cx="384.5" cy="403.2" r="1.25"/><circle cx="379.0" cy="401.2" r="1.25"/><circle cx="377.8" cy="394.4" r="1.25"/><circle cx="379.6" cy="401.2" r="1.25"/><circle cx="378.0" cy="404.3" r="1.25"/><circle cx="378.4" cy="404.1" r="1.25"/><circle cx="378.5" cy="403.6" r="1.25"/></g>
<g font-size="7.2" fill="#383838" font-family='"Liberation Sans", sans-serif'>
<text x="425.7" y="269.5">MTCP1</text>
<text x="435.8" y="280.8">C8G</text>
<text x="481.9" y="278.2">DCDC2</text>
<text x="333.5" y="306.6">RHBDD1</text>
<text x="344.8" y="320.1">SF3B3</text>
<text x="341.9" y="342.2">FBXL17</text>
<text x="305.6" y="349.9">NRIP1</text>
<text x="338.2" y="356.4">CAPZA2</text>
<text x="321.8" y="363.4">ZNF644</text>
<text x="351.4" y="368.4">ELAVL1</text>
<text x="349.4" y="375.3">CCNYL1</text>
<text x="333.2" y="381.1">ESCO2</text>
<text x="342.0" y="386.8">ATP9B</text>
<text x="346.0" y="392.8">TBC1D8B</text>
<text x="321.7" y="402.0">VIPR2</text>
<text x="298.9" y="382.3">LCK</text>
<text x="318.3" y="392.6">CD8A</text>
<text x="441.0" y="324.1">AK7</text>
<text x="445.0" y="331.8">ABCG4</text>
<text x="458.5" y="342.4">SLC30A10</text>
<text x="403.0" y="343.6">ABTB1</text>
<text x="423.8" y="353.0">BHLHE40</text>
<text x="390.2" y="358.8">B3GAT3</text>
<text x="396.0" y="364.6">FMNL1</text>
<text x="390.0" y="370.8">INO80C</text>
<text x="387.3" y="377.0">ENDOV</text>
<text x="380.6" y="382.4">HDAC3</text>
<text x="406.9" y="382.6">SLC2A6</text>
<text x="387.0" y="388.2">BYSL</text>
<text x="379.6" y="393.6">CCNG2</text>
<text x="415.2" y="395.3">ALOX12B</text>
<text x="378.7" y="403.6">ABAT</text>
<text x="398.8" y="403.6">IGFLR1</text>
<text x="447.9" y="371.8">PPM1J</text>
<text x="448.8" y="378.0">BOLL</text>
</g>
<g fill="#0f4f8e"><circle cx="333.3" cy="298.8" r="1.25"/><circle cx="344.8" cy="312.3" r="1.25"/><circle cx="341.9" cy="334.6" r="1.25"/><circle cx="305.6" cy="342.1" r="1.25"/><circle cx="344.8" cy="344.4" r="1.25"/><circle cx="338.3" cy="348.3" r="1.25"/><circle cx="344.8" cy="344.5" r="1.25"/><circle cx="338.4" cy="348.8" r="1.25"/><circle cx="343.4" cy="351.9" r="1.25"/><circle cx="321.5" cy="355.8" r="1.25"/><circle cx="341.1" cy="356.2" r="1.25"/><circle cx="351.8" cy="360.6" r="1.25"/><circle cx="323.0" cy="364.5" r="1.25"/><circle cx="336.1" cy="363.1" r="1.25"/><circle cx="341.1" cy="365.4" r="1.25"/><circle cx="344.2" cy="365.0" r="1.25"/><circle cx="348.4" cy="363.8" r="1.25"/><circle cx="349.5" cy="365.4" r="1.25"/><circle cx="348.0" cy="366.9" r="1.25"/><circle cx="336.8" cy="367.3" r="1.25"/><circle cx="340.7" cy="368.8" r="1.25"/><circle cx="346.8" cy="368.8" r="1.25"/><circle cx="349.5" cy="369.6" r="1.25"/><circle cx="337.0" cy="367.5" r="1.25"/><circle cx="340.8" cy="368.9" r="1.25"/><circle cx="337.7" cy="370.9" r="1.25"/><circle cx="332.8" cy="372.8" r="1.25"/><circle cx="339.3" cy="373.6" r="1.25"/><circle cx="345.7" cy="371.7" r="1.25"/><circle cx="347.2" cy="369.4" r="1.25"/><circle cx="351.0" cy="370.2" r="1.25"/><circle cx="348.0" cy="374.3" r="1.25"/><circle cx="344.6" cy="376.6" r="1.25"/><circle cx="342.3" cy="378.9" r="1.25"/><circle cx="348.7" cy="378.9" r="1.25"/><circle cx="354.0" cy="379.3" r="1.25"/><circle cx="347.2" cy="381.5" r="1.25"/><circle cx="350.2" cy="381.9" r="1.25"/><circle cx="330.9" cy="382.7" r="1.25"/><circle cx="343.4" cy="383.4" r="1.25"/><circle cx="338.9" cy="384.9" r="1.25"/><circle cx="346.5" cy="384.9" r="1.25"/><circle cx="351.0" cy="384.6" r="1.25"/><circle cx="341.5" cy="388.0" r="1.25"/><circle cx="340.4" cy="389.5" r="1.25"/><circle cx="344.6" cy="390.2" r="1.25"/><circle cx="348.0" cy="388.7" r="1.25"/><circle cx="350.2" cy="390.2" r="1.25"/><circle cx="354.4" cy="389.1" r="1.25"/><circle cx="341.9" cy="392.5" r="1.25"/><circle cx="345.7" cy="392.5" r="1.25"/><circle cx="348.0" cy="393.3" r="1.25"/><circle cx="351.0" cy="392.5" r="1.25"/><circle cx="352.9" cy="394.8" r="1.25"/><circle cx="354.8" cy="395.9" r="1.25"/><circle cx="327.5" cy="394.2" r="1.25"/><circle cx="346.1" cy="395.2" r="1.25"/><circle cx="348.7" cy="396.7" r="1.25"/><circle cx="298.6" cy="374.9" r="1.25"/><circle cx="308.2" cy="386.7" r="1.25"/><circle cx="311.6" cy="382.6" r="1.25"/><circle cx="318.3" cy="384.5" r="1.25"/><circle cx="320.6" cy="393.9" r="1.25"/><circle cx="327.5" cy="394.2" r="1.25"/><circle cx="321.7" cy="355.8" r="1.25"/><circle cx="323.1" cy="364.2" r="1.25"/><circle cx="331.4" cy="382.9" r="1.25"/><circle cx="332.7" cy="372.5" r="1.25"/><circle cx="302.5" cy="378.1" r="1.25"/><circle cx="321.4" cy="355.2" r="1.25"/><circle cx="318.1" cy="385.6" r="1.25"/><circle cx="320.5" cy="392.9" r="1.25"/><circle cx="346.1" cy="365.1" r="1.25"/><circle cx="350.6" cy="390.8" r="1.25"/><circle cx="348.6" cy="365.4" r="1.25"/><circle cx="345.1" cy="379.2" r="1.25"/><circle cx="344.5" cy="388.4" r="1.25"/><circle cx="349.7" cy="376.1" r="1.25"/><circle cx="350.6" cy="377.5" r="1.25"/><circle cx="355.4" cy="388.6" r="1.25"/><circle cx="351.4" cy="372.2" r="1.25"/><circle cx="346.8" cy="387.1" r="1.25"/><circle cx="355.7" cy="362.1" r="1.25"/><circle cx="347.1" cy="372.7" r="1.25"/><circle cx="350.6" cy="394.1" r="1.25"/><circle cx="353.1" cy="379.0" r="1.25"/><circle cx="352.2" cy="363.1" r="1.25"/><circle cx="344.2" cy="375.5" r="1.25"/><circle cx="355.1" cy="385.8" r="1.25"/><circle cx="351.2" cy="369.5" r="1.25"/><circle cx="352.6" cy="372.7" r="1.25"/><circle cx="345.8" cy="388.0" r="1.25"/><circle cx="351.5" cy="391.9" r="1.25"/><circle cx="353.7" cy="386.6" r="1.25"/><circle cx="352.9" cy="377.4" r="1.25"/><circle cx="344.3" cy="393.6" r="1.25"/><circle cx="348.1" cy="392.6" r="1.25"/><circle cx="344.9" cy="379.3" r="1.25"/><circle cx="346.8" cy="387.1" r="1.25"/><circle cx="346.6" cy="393.4" r="1.25"/></g>
<line x1="355.50" y1="227.75" x2="355.50" y2="412.20" stroke="#333" stroke-width="1.0" stroke-dasharray="2.8,1.2"/>
<line x1="376.10" y1="227.75" x2="376.10" y2="412.20" stroke="#333" stroke-width="1.0" stroke-dasharray="2.8,1.2"/>
<line x1="273.40" y1="397.46" x2="510.15" y2="397.46" stroke="#333" stroke-width="1.0" stroke-dasharray="2.8,1.2"/>
<rect x="273.40" y="227.75" width="236.75" height="184.45" fill="none" stroke="#1e1e1e" stroke-width="1.3"/>
<text x="379.30" y="436.70" font-size="9" textLength="12.3" lengthAdjust="spacingAndGlyphs" fill="#333">Log</text>
<text x="391.70" y="439.90" font-size="6.6" textLength="2.8" lengthAdjust="spacingAndGlyphs" fill="#333">2</text>
<text x="396.20" y="436.70" font-size="9" textLength="8.1" lengthAdjust="spacingAndGlyphs" fill="#333">FC</text>
<g transform="translate(252.9,332.3) rotate(-90)" fill="#333"><text x="0" y="0" font-size="8.8" textLength="13.8" lengthAdjust="spacingAndGlyphs">-Log</text><text x="14.6" y="0" font-size="5.6" textLength="5.3" lengthAdjust="spacingAndGlyphs">10</text><text x="20.5" y="-2.8" font-size="6.3" textLength="4.0" lengthAdjust="spacingAndGlyphs">P</text></g>
<text x="432.00" y="440.20" font-size="7.5" textLength="68" lengthAdjust="spacingAndGlyphs" fill="#262626">Total = 350 variables</text>
<rect x="0.5" y="0.5" width="519" height="448" fill="none" stroke="#000" stroke-width="1"/>
<rect x="518.6" y="0" width="1.4" height="449" fill="#000"/>
<rect x="0" y="447.6" width="520" height="1.4" fill="#000"/>
</svg>
</body></html>
